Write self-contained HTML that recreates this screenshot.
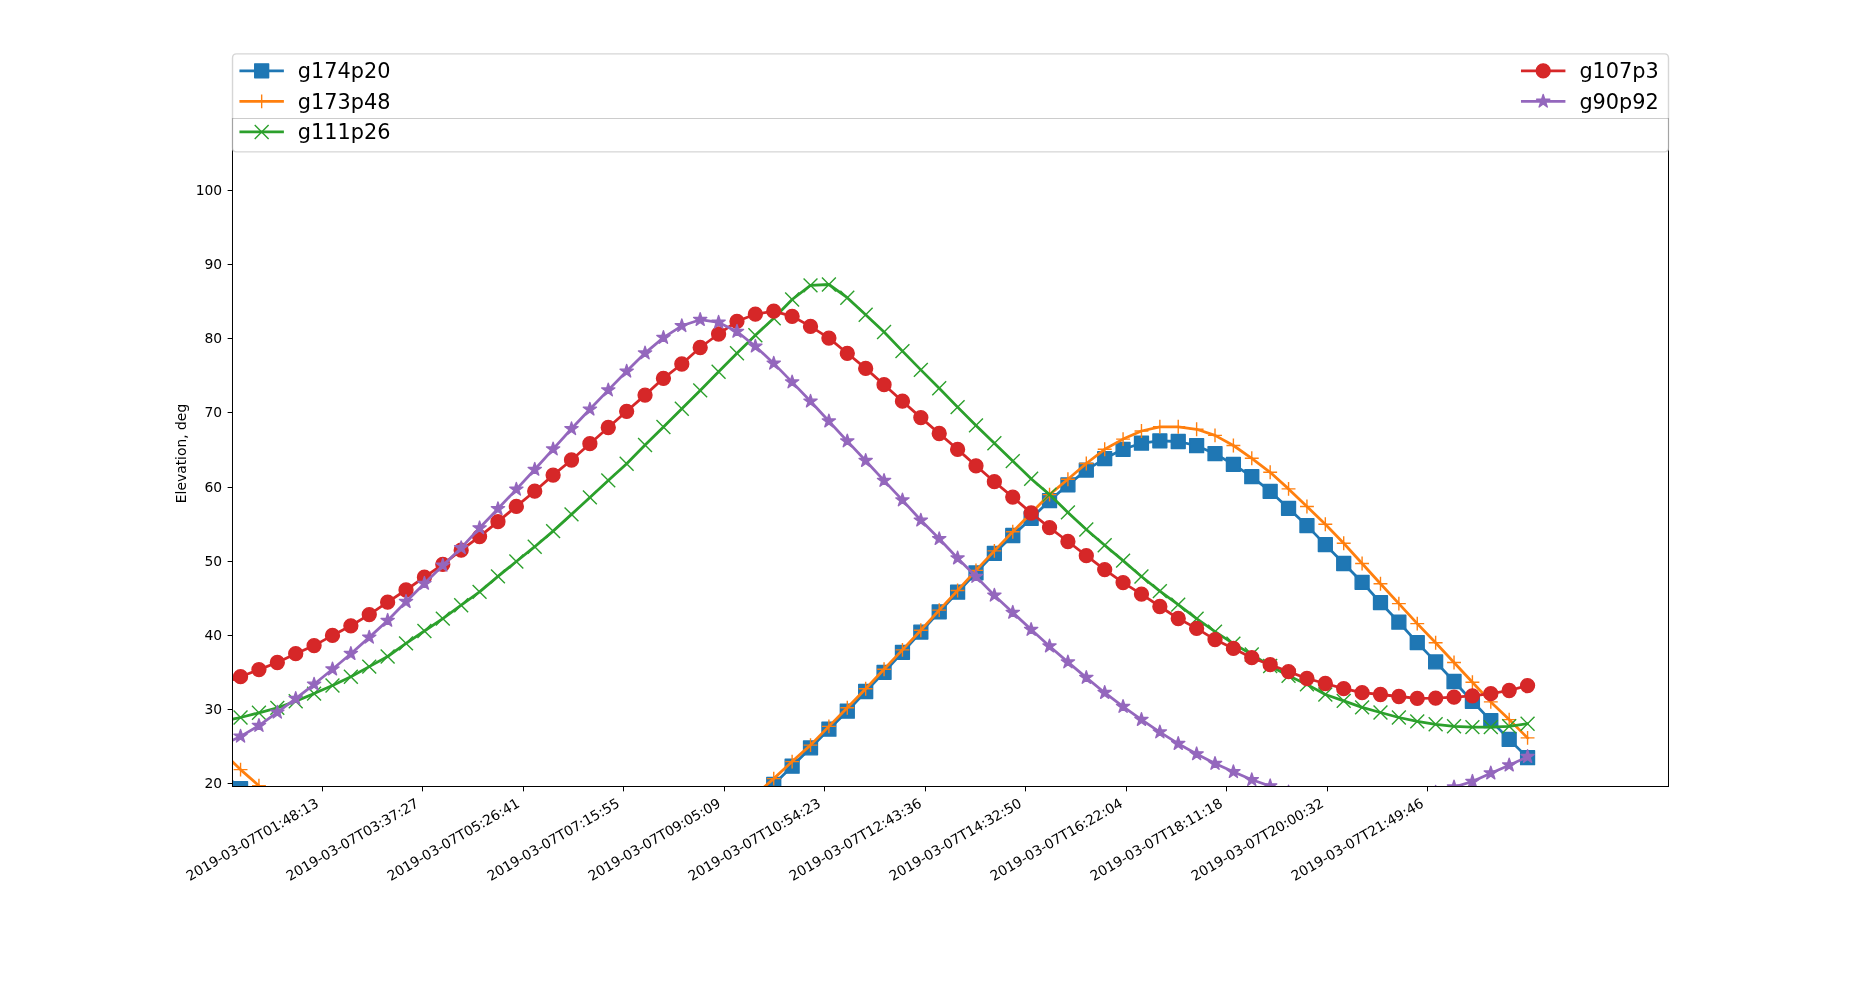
<!DOCTYPE html>
<html><head><meta charset="utf-8"><title>Elevation</title>
<style>html,body{margin:0;padding:0;background:#fff;width:1853px;height:982px;overflow:hidden}svg{display:block;will-change:transform}</style>
</head><body>
<svg width="1853" height="982" viewBox="0 0 1334.16 707.04" version="1.1">
 <defs>
  <style type="text/css">*{stroke-linejoin: round; stroke-linecap: butt}</style>
 </defs>
 <g id="figure_1">
  <g id="patch_1">
   <path d="M 0 707.04 
L 1334.16 707.04 
L 1334.16 0 
L 0 0 
z
" style="fill: #ffffff"/>
  </g>
  <g id="axes_1">
   <g id="patch_2">
    <path d="M 167.4 566.28 
L 1201.32 566.28 
L 1201.32 85.32 
L 167.4 85.32 
z
" style="fill: #ffffff"/>
   </g>
   <g id="matplotlib.axis_1">
    <g id="xtick_1">
     <g id="line2d_1">
      <defs>
       
      </defs>
      <g>
       <path d="M 0 0 
L 0 3.5 
" transform="translate(232.2 566.28)" style="stroke: #000000; stroke-width: 0.72"/>
      </g>
     </g>
     <g id="text_1">
      <text style="font-size: 10px; font-family: 'DejaVu Sans', sans-serif; letter-spacing: -0.060px" transform="translate(136.645662 634.428409) rotate(-30)">2019-03-07T01:48:13</text>
     </g>
    </g>
    <g id="xtick_2">
     <g id="line2d_2">
      <g>
       <path d="M 0 0 
L 0 3.5 
" transform="translate(304.2 566.28)" style="stroke: #000000; stroke-width: 0.72"/>
      </g>
     </g>
     <g id="text_2">
      <text style="font-size: 10px; font-family: 'DejaVu Sans', sans-serif; letter-spacing: -0.060px" transform="translate(208.645662 634.428409) rotate(-30)">2019-03-07T03:37:27</text>
     </g>
    </g>
    <g id="xtick_3">
     <g id="line2d_3">
      <g>
       <path d="M 0 0 
L 0 3.5 
" transform="translate(376.92 566.28)" style="stroke: #000000; stroke-width: 0.72"/>
      </g>
     </g>
     <g id="text_3">
      <text style="font-size: 10px; font-family: 'DejaVu Sans', sans-serif; letter-spacing: -0.060px" transform="translate(281.365662 634.428409) rotate(-30)">2019-03-07T05:26:41</text>
     </g>
    </g>
    <g id="xtick_4">
     <g id="line2d_4">
      <g>
       <path d="M 0 0 
L 0 3.5 
" transform="translate(448.92 566.28)" style="stroke: #000000; stroke-width: 0.72"/>
      </g>
     </g>
     <g id="text_4">
      <text style="font-size: 10px; font-family: 'DejaVu Sans', sans-serif; letter-spacing: -0.060px" transform="translate(353.365662 634.428409) rotate(-30)">2019-03-07T07:15:55</text>
     </g>
    </g>
    <g id="xtick_5">
     <g id="line2d_5">
      <g>
       <path d="M 0 0 
L 0 3.5 
" transform="translate(521.64 566.28)" style="stroke: #000000; stroke-width: 0.72"/>
      </g>
     </g>
     <g id="text_5">
      <text style="font-size: 10px; font-family: 'DejaVu Sans', sans-serif; letter-spacing: -0.060px" transform="translate(426.085662 634.428409) rotate(-30)">2019-03-07T09:05:09</text>
     </g>
    </g>
    <g id="xtick_6">
     <g id="line2d_6">
      <g>
       <path d="M 0 0 
L 0 3.5 
" transform="translate(593.64 566.28)" style="stroke: #000000; stroke-width: 0.72"/>
      </g>
     </g>
     <g id="text_6">
      <text style="font-size: 10px; font-family: 'DejaVu Sans', sans-serif; letter-spacing: -0.060px" transform="translate(498.085662 634.428409) rotate(-30)">2019-03-07T10:54:23</text>
     </g>
    </g>
    <g id="xtick_7">
     <g id="line2d_7">
      <g>
       <path d="M 0 0 
L 0 3.5 
" transform="translate(666.36 566.28)" style="stroke: #000000; stroke-width: 0.72"/>
      </g>
     </g>
     <g id="text_7">
      <text style="font-size: 10px; font-family: 'DejaVu Sans', sans-serif; letter-spacing: -0.060px" transform="translate(570.805662 634.428409) rotate(-30)">2019-03-07T12:43:36</text>
     </g>
    </g>
    <g id="xtick_8">
     <g id="line2d_8">
      <g>
       <path d="M 0 0 
L 0 3.5 
" transform="translate(738.36 566.28)" style="stroke: #000000; stroke-width: 0.72"/>
      </g>
     </g>
     <g id="text_8">
      <text style="font-size: 10px; font-family: 'DejaVu Sans', sans-serif; letter-spacing: -0.060px" transform="translate(642.805662 634.428409) rotate(-30)">2019-03-07T14:32:50</text>
     </g>
    </g>
    <g id="xtick_9">
     <g id="line2d_9">
      <g>
       <path d="M 0 0 
L 0 3.5 
" transform="translate(811.08 566.28)" style="stroke: #000000; stroke-width: 0.72"/>
      </g>
     </g>
     <g id="text_9">
      <text style="font-size: 10px; font-family: 'DejaVu Sans', sans-serif; letter-spacing: -0.060px" transform="translate(715.525662 634.428409) rotate(-30)">2019-03-07T16:22:04</text>
     </g>
    </g>
    <g id="xtick_10">
     <g id="line2d_10">
      <g>
       <path d="M 0 0 
L 0 3.5 
" transform="translate(883.08 566.28)" style="stroke: #000000; stroke-width: 0.72"/>
      </g>
     </g>
     <g id="text_10">
      <text style="font-size: 10px; font-family: 'DejaVu Sans', sans-serif; letter-spacing: -0.060px" transform="translate(787.525662 634.428409) rotate(-30)">2019-03-07T18:11:18</text>
     </g>
    </g>
    <g id="xtick_11">
     <g id="line2d_11">
      <g>
       <path d="M 0 0 
L 0 3.5 
" transform="translate(955.8 566.28)" style="stroke: #000000; stroke-width: 0.72"/>
      </g>
     </g>
     <g id="text_11">
      <text style="font-size: 10px; font-family: 'DejaVu Sans', sans-serif; letter-spacing: -0.060px" transform="translate(860.245662 634.428409) rotate(-30)">2019-03-07T20:00:32</text>
     </g>
    </g>
    <g id="xtick_12">
     <g id="line2d_12">
      <g>
       <path d="M 0 0 
L 0 3.5 
" transform="translate(1027.8 566.28)" style="stroke: #000000; stroke-width: 0.72"/>
      </g>
     </g>
     <g id="text_12">
      <text style="font-size: 10px; font-family: 'DejaVu Sans', sans-serif; letter-spacing: -0.060px" transform="translate(932.245662 634.428409) rotate(-30)">2019-03-07T21:49:46</text>
     </g>
    </g>
   </g>
   <g id="matplotlib.axis_2">
    <g id="ytick_1">
     <g id="line2d_13">
      <defs>
       
      </defs>
      <g>
       <path d="M 0 0 
L -3.5 0 
" transform="translate(167.4 564.12)" style="stroke: #000000; stroke-width: 0.72"/>
      </g>
     </g>
     <g id="text_13">
      <text style="font-size: 10px; font-family: 'DejaVu Sans', sans-serif; text-anchor: end" x="159.968" y="567.199" transform="rotate(-0 159.968 567.199)">20</text>
     </g>
    </g>
    <g id="ytick_2">
     <g id="line2d_14">
      <g>
       <path d="M 0 0 
L -3.5 0 
" transform="translate(167.4 510.84)" style="stroke: #000000; stroke-width: 0.72"/>
      </g>
     </g>
     <g id="text_14">
      <text style="font-size: 10px; font-family: 'DejaVu Sans', sans-serif; text-anchor: end" x="159.968" y="513.919" transform="rotate(-0 159.968 513.919)">30</text>
     </g>
    </g>
    <g id="ytick_3">
     <g id="line2d_15">
      <g>
       <path d="M 0 0 
L -3.5 0 
" transform="translate(167.4 457.56)" style="stroke: #000000; stroke-width: 0.72"/>
      </g>
     </g>
     <g id="text_15">
      <text style="font-size: 10px; font-family: 'DejaVu Sans', sans-serif; text-anchor: end" x="159.968" y="460.639" transform="rotate(-0 159.968 460.639)">40</text>
     </g>
    </g>
    <g id="ytick_4">
     <g id="line2d_16">
      <g>
       <path d="M 0 0 
L -3.5 0 
" transform="translate(167.4 404.28)" style="stroke: #000000; stroke-width: 0.72"/>
      </g>
     </g>
     <g id="text_16">
      <text style="font-size: 10px; font-family: 'DejaVu Sans', sans-serif; text-anchor: end" x="159.968" y="407.359" transform="rotate(-0 159.968 407.359)">50</text>
     </g>
    </g>
    <g id="ytick_5">
     <g id="line2d_17">
      <g>
       <path d="M 0 0 
L -3.5 0 
" transform="translate(167.4 351)" style="stroke: #000000; stroke-width: 0.72"/>
      </g>
     </g>
     <g id="text_17">
      <text style="font-size: 10px; font-family: 'DejaVu Sans', sans-serif; text-anchor: end" x="159.968" y="354.079" transform="rotate(-0 159.968 354.079)">60</text>
     </g>
    </g>
    <g id="ytick_6">
     <g id="line2d_18">
      <g>
       <path d="M 0 0 
L -3.5 0 
" transform="translate(167.4 297)" style="stroke: #000000; stroke-width: 0.72"/>
      </g>
     </g>
     <g id="text_18">
      <text style="font-size: 10px; font-family: 'DejaVu Sans', sans-serif; text-anchor: end" x="159.968" y="300.079" transform="rotate(-0 159.968 300.079)">70</text>
     </g>
    </g>
    <g id="ytick_7">
     <g id="line2d_19">
      <g>
       <path d="M 0 0 
L -3.5 0 
" transform="translate(167.4 243.72)" style="stroke: #000000; stroke-width: 0.72"/>
      </g>
     </g>
     <g id="text_19">
      <text style="font-size: 10px; font-family: 'DejaVu Sans', sans-serif; text-anchor: end" x="159.968" y="246.799" transform="rotate(-0 159.968 246.799)">80</text>
     </g>
    </g>
    <g id="ytick_8">
     <g id="line2d_20">
      <g>
       <path d="M 0 0 
L -3.5 0 
" transform="translate(167.4 190.44)" style="stroke: #000000; stroke-width: 0.72"/>
      </g>
     </g>
     <g id="text_20">
      <text style="font-size: 10px; font-family: 'DejaVu Sans', sans-serif; text-anchor: end" x="159.968" y="193.519" transform="rotate(-0 159.968 193.519)">90</text>
     </g>
    </g>
    <g id="ytick_9">
     <g id="line2d_21">
      <g>
       <path d="M 0 0 
L -3.5 0 
" transform="translate(167.4 137.16)" style="stroke: #000000; stroke-width: 0.72"/>
      </g>
     </g>
     <g id="text_21">
      <text style="font-size: 10px; font-family: 'DejaVu Sans', sans-serif; text-anchor: end" x="159.968" y="140.239" transform="rotate(-0 159.968 140.239)">100</text>
     </g>
    </g>
    <g id="text_22">
     <text style="font-size: 10px; font-family: 'DejaVu Sans', sans-serif; text-anchor: middle" x="133.865" y="326.520" transform="rotate(-90 133.865 326.520)">Elevation, deg</text>
    </g>
   </g>
   <g id="line2d_22">
    <path d="M 159.95808 555.984 
L 173.196 567.864 
L 186.43392 579.744 
L 199.67184 612.144 
L 212.90976 612.144 
L 226.14768 612.144 
L 239.3856 612.144 
L 252.62352 612.144 
L 265.86144 612.144 
L 279.09936 612.144 
L 292.33728 612.144 
L 305.5752 612.144 
L 318.81312 612.144 
L 332.05104 612.144 
L 345.28896 612.144 
L 358.52688 612.144 
L 371.7648 612.144 
L 385.00272 612.144 
L 398.24064 612.144 
L 411.47856 612.144 
L 424.71648 612.144 
L 437.9544 612.144 
L 451.19232 612.144 
L 464.43024 612.144 
L 477.66816 612.144 
L 490.90608 612.144 
L 504.144 612.144 
L 517.38192 612.144 
L 530.61984 612.144 
L 543.85776 577.584 
L 557.09568 564.768 
L 570.3336 551.664 
L 583.57152 538.488 
L 596.80944 525.024 
L 610.04736 512.064 
L 623.28528 497.88 
L 636.5232 484.128 
L 649.76112 469.728 
L 662.99904 455.112 
L 676.23696 440.496 
L 689.47488 426.384 
L 702.7128 412.488 
L 715.95072 398.376 
L 729.18864 385.56 
L 742.42656 373.248 
L 755.66448 360.504 
L 768.9024 349.056 
L 782.14032 338.472 
L 795.37824 330.192 
L 808.61616 323.496 
L 821.85408 319.104 
L 835.092 317.376 
L 848.32992 317.88 
L 861.56784 320.904 
L 874.80576 326.664 
L 888.04368 334.368 
L 901.2816 343.224 
L 914.51952 353.736 
L 927.75744 366.048 
L 940.99536 378.432 
L 954.23328 392.112 
L 967.4712 405.72 
L 980.70912 419.256 
L 993.94704 433.872 
L 1007.18496 447.984 
L 1020.42288 462.672 
L 1033.6608 476.568 
L 1046.89872 490.68 
L 1060.13664 504.936 
L 1073.37456 518.832 
L 1086.61248 532.368 
L 1099.8504 545.544 
" clip-path="url(#p12b262372b)" style="fill: none; stroke: #1f77b4; stroke-width: 2; stroke-linecap: square"/>
    <defs>
     
    </defs>
    <g clip-path="url(#p12b262372b)">
     <path d="M -5 5 
L 5 5 
L 5 -5 
L -5 -5 
z
" transform="translate(159.95808 555.984)" style="fill: #1f77b4; stroke: #1f77b4; stroke-linejoin: round"/>
     <path d="M -5 5 
L 5 5 
L 5 -5 
L -5 -5 
z
" transform="translate(173.196 567.864)" style="fill: #1f77b4; stroke: #1f77b4; stroke-linejoin: round"/>
     <path d="M -5 5 
L 5 5 
L 5 -5 
L -5 -5 
z
" transform="translate(186.43392 579.744)" style="fill: #1f77b4; stroke: #1f77b4; stroke-linejoin: round"/>
     <path d="M -5 5 
L 5 5 
L 5 -5 
L -5 -5 
z
" transform="translate(199.67184 612.144)" style="fill: #1f77b4; stroke: #1f77b4; stroke-linejoin: round"/>
     <path d="M -5 5 
L 5 5 
L 5 -5 
L -5 -5 
z
" transform="translate(212.90976 612.144)" style="fill: #1f77b4; stroke: #1f77b4; stroke-linejoin: round"/>
     <path d="M -5 5 
L 5 5 
L 5 -5 
L -5 -5 
z
" transform="translate(226.14768 612.144)" style="fill: #1f77b4; stroke: #1f77b4; stroke-linejoin: round"/>
     <path d="M -5 5 
L 5 5 
L 5 -5 
L -5 -5 
z
" transform="translate(239.3856 612.144)" style="fill: #1f77b4; stroke: #1f77b4; stroke-linejoin: round"/>
     <path d="M -5 5 
L 5 5 
L 5 -5 
L -5 -5 
z
" transform="translate(252.62352 612.144)" style="fill: #1f77b4; stroke: #1f77b4; stroke-linejoin: round"/>
     <path d="M -5 5 
L 5 5 
L 5 -5 
L -5 -5 
z
" transform="translate(265.86144 612.144)" style="fill: #1f77b4; stroke: #1f77b4; stroke-linejoin: round"/>
     <path d="M -5 5 
L 5 5 
L 5 -5 
L -5 -5 
z
" transform="translate(279.09936 612.144)" style="fill: #1f77b4; stroke: #1f77b4; stroke-linejoin: round"/>
     <path d="M -5 5 
L 5 5 
L 5 -5 
L -5 -5 
z
" transform="translate(292.33728 612.144)" style="fill: #1f77b4; stroke: #1f77b4; stroke-linejoin: round"/>
     <path d="M -5 5 
L 5 5 
L 5 -5 
L -5 -5 
z
" transform="translate(305.5752 612.144)" style="fill: #1f77b4; stroke: #1f77b4; stroke-linejoin: round"/>
     <path d="M -5 5 
L 5 5 
L 5 -5 
L -5 -5 
z
" transform="translate(318.81312 612.144)" style="fill: #1f77b4; stroke: #1f77b4; stroke-linejoin: round"/>
     <path d="M -5 5 
L 5 5 
L 5 -5 
L -5 -5 
z
" transform="translate(332.05104 612.144)" style="fill: #1f77b4; stroke: #1f77b4; stroke-linejoin: round"/>
     <path d="M -5 5 
L 5 5 
L 5 -5 
L -5 -5 
z
" transform="translate(345.28896 612.144)" style="fill: #1f77b4; stroke: #1f77b4; stroke-linejoin: round"/>
     <path d="M -5 5 
L 5 5 
L 5 -5 
L -5 -5 
z
" transform="translate(358.52688 612.144)" style="fill: #1f77b4; stroke: #1f77b4; stroke-linejoin: round"/>
     <path d="M -5 5 
L 5 5 
L 5 -5 
L -5 -5 
z
" transform="translate(371.7648 612.144)" style="fill: #1f77b4; stroke: #1f77b4; stroke-linejoin: round"/>
     <path d="M -5 5 
L 5 5 
L 5 -5 
L -5 -5 
z
" transform="translate(385.00272 612.144)" style="fill: #1f77b4; stroke: #1f77b4; stroke-linejoin: round"/>
     <path d="M -5 5 
L 5 5 
L 5 -5 
L -5 -5 
z
" transform="translate(398.24064 612.144)" style="fill: #1f77b4; stroke: #1f77b4; stroke-linejoin: round"/>
     <path d="M -5 5 
L 5 5 
L 5 -5 
L -5 -5 
z
" transform="translate(411.47856 612.144)" style="fill: #1f77b4; stroke: #1f77b4; stroke-linejoin: round"/>
     <path d="M -5 5 
L 5 5 
L 5 -5 
L -5 -5 
z
" transform="translate(424.71648 612.144)" style="fill: #1f77b4; stroke: #1f77b4; stroke-linejoin: round"/>
     <path d="M -5 5 
L 5 5 
L 5 -5 
L -5 -5 
z
" transform="translate(437.9544 612.144)" style="fill: #1f77b4; stroke: #1f77b4; stroke-linejoin: round"/>
     <path d="M -5 5 
L 5 5 
L 5 -5 
L -5 -5 
z
" transform="translate(451.19232 612.144)" style="fill: #1f77b4; stroke: #1f77b4; stroke-linejoin: round"/>
     <path d="M -5 5 
L 5 5 
L 5 -5 
L -5 -5 
z
" transform="translate(464.43024 612.144)" style="fill: #1f77b4; stroke: #1f77b4; stroke-linejoin: round"/>
     <path d="M -5 5 
L 5 5 
L 5 -5 
L -5 -5 
z
" transform="translate(477.66816 612.144)" style="fill: #1f77b4; stroke: #1f77b4; stroke-linejoin: round"/>
     <path d="M -5 5 
L 5 5 
L 5 -5 
L -5 -5 
z
" transform="translate(490.90608 612.144)" style="fill: #1f77b4; stroke: #1f77b4; stroke-linejoin: round"/>
     <path d="M -5 5 
L 5 5 
L 5 -5 
L -5 -5 
z
" transform="translate(504.144 612.144)" style="fill: #1f77b4; stroke: #1f77b4; stroke-linejoin: round"/>
     <path d="M -5 5 
L 5 5 
L 5 -5 
L -5 -5 
z
" transform="translate(517.38192 612.144)" style="fill: #1f77b4; stroke: #1f77b4; stroke-linejoin: round"/>
     <path d="M -5 5 
L 5 5 
L 5 -5 
L -5 -5 
z
" transform="translate(530.61984 612.144)" style="fill: #1f77b4; stroke: #1f77b4; stroke-linejoin: round"/>
     <path d="M -5 5 
L 5 5 
L 5 -5 
L -5 -5 
z
" transform="translate(543.85776 577.584)" style="fill: #1f77b4; stroke: #1f77b4; stroke-linejoin: round"/>
     <path d="M -5 5 
L 5 5 
L 5 -5 
L -5 -5 
z
" transform="translate(557.09568 564.768)" style="fill: #1f77b4; stroke: #1f77b4; stroke-linejoin: round"/>
     <path d="M -5 5 
L 5 5 
L 5 -5 
L -5 -5 
z
" transform="translate(570.3336 551.664)" style="fill: #1f77b4; stroke: #1f77b4; stroke-linejoin: round"/>
     <path d="M -5 5 
L 5 5 
L 5 -5 
L -5 -5 
z
" transform="translate(583.57152 538.488)" style="fill: #1f77b4; stroke: #1f77b4; stroke-linejoin: round"/>
     <path d="M -5 5 
L 5 5 
L 5 -5 
L -5 -5 
z
" transform="translate(596.80944 525.024)" style="fill: #1f77b4; stroke: #1f77b4; stroke-linejoin: round"/>
     <path d="M -5 5 
L 5 5 
L 5 -5 
L -5 -5 
z
" transform="translate(610.04736 512.064)" style="fill: #1f77b4; stroke: #1f77b4; stroke-linejoin: round"/>
     <path d="M -5 5 
L 5 5 
L 5 -5 
L -5 -5 
z
" transform="translate(623.28528 497.88)" style="fill: #1f77b4; stroke: #1f77b4; stroke-linejoin: round"/>
     <path d="M -5 5 
L 5 5 
L 5 -5 
L -5 -5 
z
" transform="translate(636.5232 484.128)" style="fill: #1f77b4; stroke: #1f77b4; stroke-linejoin: round"/>
     <path d="M -5 5 
L 5 5 
L 5 -5 
L -5 -5 
z
" transform="translate(649.76112 469.728)" style="fill: #1f77b4; stroke: #1f77b4; stroke-linejoin: round"/>
     <path d="M -5 5 
L 5 5 
L 5 -5 
L -5 -5 
z
" transform="translate(662.99904 455.112)" style="fill: #1f77b4; stroke: #1f77b4; stroke-linejoin: round"/>
     <path d="M -5 5 
L 5 5 
L 5 -5 
L -5 -5 
z
" transform="translate(676.23696 440.496)" style="fill: #1f77b4; stroke: #1f77b4; stroke-linejoin: round"/>
     <path d="M -5 5 
L 5 5 
L 5 -5 
L -5 -5 
z
" transform="translate(689.47488 426.384)" style="fill: #1f77b4; stroke: #1f77b4; stroke-linejoin: round"/>
     <path d="M -5 5 
L 5 5 
L 5 -5 
L -5 -5 
z
" transform="translate(702.7128 412.488)" style="fill: #1f77b4; stroke: #1f77b4; stroke-linejoin: round"/>
     <path d="M -5 5 
L 5 5 
L 5 -5 
L -5 -5 
z
" transform="translate(715.95072 398.376)" style="fill: #1f77b4; stroke: #1f77b4; stroke-linejoin: round"/>
     <path d="M -5 5 
L 5 5 
L 5 -5 
L -5 -5 
z
" transform="translate(729.18864 385.56)" style="fill: #1f77b4; stroke: #1f77b4; stroke-linejoin: round"/>
     <path d="M -5 5 
L 5 5 
L 5 -5 
L -5 -5 
z
" transform="translate(742.42656 373.248)" style="fill: #1f77b4; stroke: #1f77b4; stroke-linejoin: round"/>
     <path d="M -5 5 
L 5 5 
L 5 -5 
L -5 -5 
z
" transform="translate(755.66448 360.504)" style="fill: #1f77b4; stroke: #1f77b4; stroke-linejoin: round"/>
     <path d="M -5 5 
L 5 5 
L 5 -5 
L -5 -5 
z
" transform="translate(768.9024 349.056)" style="fill: #1f77b4; stroke: #1f77b4; stroke-linejoin: round"/>
     <path d="M -5 5 
L 5 5 
L 5 -5 
L -5 -5 
z
" transform="translate(782.14032 338.472)" style="fill: #1f77b4; stroke: #1f77b4; stroke-linejoin: round"/>
     <path d="M -5 5 
L 5 5 
L 5 -5 
L -5 -5 
z
" transform="translate(795.37824 330.192)" style="fill: #1f77b4; stroke: #1f77b4; stroke-linejoin: round"/>
     <path d="M -5 5 
L 5 5 
L 5 -5 
L -5 -5 
z
" transform="translate(808.61616 323.496)" style="fill: #1f77b4; stroke: #1f77b4; stroke-linejoin: round"/>
     <path d="M -5 5 
L 5 5 
L 5 -5 
L -5 -5 
z
" transform="translate(821.85408 319.104)" style="fill: #1f77b4; stroke: #1f77b4; stroke-linejoin: round"/>
     <path d="M -5 5 
L 5 5 
L 5 -5 
L -5 -5 
z
" transform="translate(835.092 317.376)" style="fill: #1f77b4; stroke: #1f77b4; stroke-linejoin: round"/>
     <path d="M -5 5 
L 5 5 
L 5 -5 
L -5 -5 
z
" transform="translate(848.32992 317.88)" style="fill: #1f77b4; stroke: #1f77b4; stroke-linejoin: round"/>
     <path d="M -5 5 
L 5 5 
L 5 -5 
L -5 -5 
z
" transform="translate(861.56784 320.904)" style="fill: #1f77b4; stroke: #1f77b4; stroke-linejoin: round"/>
     <path d="M -5 5 
L 5 5 
L 5 -5 
L -5 -5 
z
" transform="translate(874.80576 326.664)" style="fill: #1f77b4; stroke: #1f77b4; stroke-linejoin: round"/>
     <path d="M -5 5 
L 5 5 
L 5 -5 
L -5 -5 
z
" transform="translate(888.04368 334.368)" style="fill: #1f77b4; stroke: #1f77b4; stroke-linejoin: round"/>
     <path d="M -5 5 
L 5 5 
L 5 -5 
L -5 -5 
z
" transform="translate(901.2816 343.224)" style="fill: #1f77b4; stroke: #1f77b4; stroke-linejoin: round"/>
     <path d="M -5 5 
L 5 5 
L 5 -5 
L -5 -5 
z
" transform="translate(914.51952 353.736)" style="fill: #1f77b4; stroke: #1f77b4; stroke-linejoin: round"/>
     <path d="M -5 5 
L 5 5 
L 5 -5 
L -5 -5 
z
" transform="translate(927.75744 366.048)" style="fill: #1f77b4; stroke: #1f77b4; stroke-linejoin: round"/>
     <path d="M -5 5 
L 5 5 
L 5 -5 
L -5 -5 
z
" transform="translate(940.99536 378.432)" style="fill: #1f77b4; stroke: #1f77b4; stroke-linejoin: round"/>
     <path d="M -5 5 
L 5 5 
L 5 -5 
L -5 -5 
z
" transform="translate(954.23328 392.112)" style="fill: #1f77b4; stroke: #1f77b4; stroke-linejoin: round"/>
     <path d="M -5 5 
L 5 5 
L 5 -5 
L -5 -5 
z
" transform="translate(967.4712 405.72)" style="fill: #1f77b4; stroke: #1f77b4; stroke-linejoin: round"/>
     <path d="M -5 5 
L 5 5 
L 5 -5 
L -5 -5 
z
" transform="translate(980.70912 419.256)" style="fill: #1f77b4; stroke: #1f77b4; stroke-linejoin: round"/>
     <path d="M -5 5 
L 5 5 
L 5 -5 
L -5 -5 
z
" transform="translate(993.94704 433.872)" style="fill: #1f77b4; stroke: #1f77b4; stroke-linejoin: round"/>
     <path d="M -5 5 
L 5 5 
L 5 -5 
L -5 -5 
z
" transform="translate(1007.18496 447.984)" style="fill: #1f77b4; stroke: #1f77b4; stroke-linejoin: round"/>
     <path d="M -5 5 
L 5 5 
L 5 -5 
L -5 -5 
z
" transform="translate(1020.42288 462.672)" style="fill: #1f77b4; stroke: #1f77b4; stroke-linejoin: round"/>
     <path d="M -5 5 
L 5 5 
L 5 -5 
L -5 -5 
z
" transform="translate(1033.6608 476.568)" style="fill: #1f77b4; stroke: #1f77b4; stroke-linejoin: round"/>
     <path d="M -5 5 
L 5 5 
L 5 -5 
L -5 -5 
z
" transform="translate(1046.89872 490.68)" style="fill: #1f77b4; stroke: #1f77b4; stroke-linejoin: round"/>
     <path d="M -5 5 
L 5 5 
L 5 -5 
L -5 -5 
z
" transform="translate(1060.13664 504.936)" style="fill: #1f77b4; stroke: #1f77b4; stroke-linejoin: round"/>
     <path d="M -5 5 
L 5 5 
L 5 -5 
L -5 -5 
z
" transform="translate(1073.37456 518.832)" style="fill: #1f77b4; stroke: #1f77b4; stroke-linejoin: round"/>
     <path d="M -5 5 
L 5 5 
L 5 -5 
L -5 -5 
z
" transform="translate(1086.61248 532.368)" style="fill: #1f77b4; stroke: #1f77b4; stroke-linejoin: round"/>
     <path d="M -5 5 
L 5 5 
L 5 -5 
L -5 -5 
z
" transform="translate(1099.8504 545.544)" style="fill: #1f77b4; stroke: #1f77b4; stroke-linejoin: round"/>
    </g>
   </g>
   <g id="line2d_23">
    <path d="M 159.95808 541.224 
L 173.196 554.112 
L 186.43392 565.704 
L 199.67184 578.304 
L 212.90976 612.144 
L 226.14768 612.144 
L 239.3856 612.144 
L 252.62352 612.144 
L 265.86144 612.144 
L 279.09936 612.144 
L 292.33728 612.144 
L 305.5752 612.144 
L 318.81312 612.144 
L 332.05104 612.144 
L 345.28896 612.144 
L 358.52688 612.144 
L 371.7648 612.144 
L 385.00272 612.144 
L 398.24064 612.144 
L 411.47856 612.144 
L 424.71648 612.144 
L 437.9544 612.144 
L 451.19232 612.144 
L 464.43024 612.144 
L 477.66816 612.144 
L 490.90608 612.144 
L 504.144 612.144 
L 517.38192 612.144 
L 530.61984 612.144 
L 543.85776 572.328 
L 557.09568 560.592 
L 570.3336 548.352 
L 583.57152 536.472 
L 596.80944 523.008 
L 610.04736 509.544 
L 623.28528 495.864 
L 636.5232 481.824 
L 649.76112 467.928 
L 662.99904 453.816 
L 676.23696 439.272 
L 689.47488 425.16 
L 702.7128 410.688 
L 715.95072 396.648 
L 729.18864 382.896 
L 742.42656 369.36 
L 755.66448 356.112 
L 768.9024 345.024 
L 782.14032 333.72 
L 795.37824 323.496 
L 808.61616 316.152 
L 821.85408 310.32 
L 835.092 307.296 
L 848.32992 307.296 
L 861.56784 309.096 
L 874.80576 313.488 
L 888.04368 320.76 
L 901.2816 329.976 
L 914.51952 340.056 
L 927.75744 352.008 
L 940.99536 364.68 
L 954.23328 377.496 
L 967.4712 391.104 
L 980.70912 405.72 
L 993.94704 420.264 
L 1007.18496 434.592 
L 1020.42288 448.992 
L 1033.6608 462.816 
L 1046.89872 477 
L 1060.13664 491.256 
L 1073.37456 505.368 
L 1086.61248 518.112 
L 1099.8504 531.288 
" clip-path="url(#p12b262372b)" style="fill: none; stroke: #ff7f0e; stroke-width: 2; stroke-linecap: square"/>
    <defs>
     
    </defs>
    <g clip-path="url(#p12b262372b)">
     <path d="M -5 0 
L 5 0 
M 0 5 
L 0 -5 
" transform="translate(159.95808 541.224)" style="fill: #ff7f0e; stroke: #ff7f0e"/>
     <path d="M -5 0 
L 5 0 
M 0 5 
L 0 -5 
" transform="translate(173.196 554.112)" style="fill: #ff7f0e; stroke: #ff7f0e"/>
     <path d="M -5 0 
L 5 0 
M 0 5 
L 0 -5 
" transform="translate(186.43392 565.704)" style="fill: #ff7f0e; stroke: #ff7f0e"/>
     <path d="M -5 0 
L 5 0 
M 0 5 
L 0 -5 
" transform="translate(199.67184 578.304)" style="fill: #ff7f0e; stroke: #ff7f0e"/>
     <path d="M -5 0 
L 5 0 
M 0 5 
L 0 -5 
" transform="translate(212.90976 612.144)" style="fill: #ff7f0e; stroke: #ff7f0e"/>
     <path d="M -5 0 
L 5 0 
M 0 5 
L 0 -5 
" transform="translate(226.14768 612.144)" style="fill: #ff7f0e; stroke: #ff7f0e"/>
     <path d="M -5 0 
L 5 0 
M 0 5 
L 0 -5 
" transform="translate(239.3856 612.144)" style="fill: #ff7f0e; stroke: #ff7f0e"/>
     <path d="M -5 0 
L 5 0 
M 0 5 
L 0 -5 
" transform="translate(252.62352 612.144)" style="fill: #ff7f0e; stroke: #ff7f0e"/>
     <path d="M -5 0 
L 5 0 
M 0 5 
L 0 -5 
" transform="translate(265.86144 612.144)" style="fill: #ff7f0e; stroke: #ff7f0e"/>
     <path d="M -5 0 
L 5 0 
M 0 5 
L 0 -5 
" transform="translate(279.09936 612.144)" style="fill: #ff7f0e; stroke: #ff7f0e"/>
     <path d="M -5 0 
L 5 0 
M 0 5 
L 0 -5 
" transform="translate(292.33728 612.144)" style="fill: #ff7f0e; stroke: #ff7f0e"/>
     <path d="M -5 0 
L 5 0 
M 0 5 
L 0 -5 
" transform="translate(305.5752 612.144)" style="fill: #ff7f0e; stroke: #ff7f0e"/>
     <path d="M -5 0 
L 5 0 
M 0 5 
L 0 -5 
" transform="translate(318.81312 612.144)" style="fill: #ff7f0e; stroke: #ff7f0e"/>
     <path d="M -5 0 
L 5 0 
M 0 5 
L 0 -5 
" transform="translate(332.05104 612.144)" style="fill: #ff7f0e; stroke: #ff7f0e"/>
     <path d="M -5 0 
L 5 0 
M 0 5 
L 0 -5 
" transform="translate(345.28896 612.144)" style="fill: #ff7f0e; stroke: #ff7f0e"/>
     <path d="M -5 0 
L 5 0 
M 0 5 
L 0 -5 
" transform="translate(358.52688 612.144)" style="fill: #ff7f0e; stroke: #ff7f0e"/>
     <path d="M -5 0 
L 5 0 
M 0 5 
L 0 -5 
" transform="translate(371.7648 612.144)" style="fill: #ff7f0e; stroke: #ff7f0e"/>
     <path d="M -5 0 
L 5 0 
M 0 5 
L 0 -5 
" transform="translate(385.00272 612.144)" style="fill: #ff7f0e; stroke: #ff7f0e"/>
     <path d="M -5 0 
L 5 0 
M 0 5 
L 0 -5 
" transform="translate(398.24064 612.144)" style="fill: #ff7f0e; stroke: #ff7f0e"/>
     <path d="M -5 0 
L 5 0 
M 0 5 
L 0 -5 
" transform="translate(411.47856 612.144)" style="fill: #ff7f0e; stroke: #ff7f0e"/>
     <path d="M -5 0 
L 5 0 
M 0 5 
L 0 -5 
" transform="translate(424.71648 612.144)" style="fill: #ff7f0e; stroke: #ff7f0e"/>
     <path d="M -5 0 
L 5 0 
M 0 5 
L 0 -5 
" transform="translate(437.9544 612.144)" style="fill: #ff7f0e; stroke: #ff7f0e"/>
     <path d="M -5 0 
L 5 0 
M 0 5 
L 0 -5 
" transform="translate(451.19232 612.144)" style="fill: #ff7f0e; stroke: #ff7f0e"/>
     <path d="M -5 0 
L 5 0 
M 0 5 
L 0 -5 
" transform="translate(464.43024 612.144)" style="fill: #ff7f0e; stroke: #ff7f0e"/>
     <path d="M -5 0 
L 5 0 
M 0 5 
L 0 -5 
" transform="translate(477.66816 612.144)" style="fill: #ff7f0e; stroke: #ff7f0e"/>
     <path d="M -5 0 
L 5 0 
M 0 5 
L 0 -5 
" transform="translate(490.90608 612.144)" style="fill: #ff7f0e; stroke: #ff7f0e"/>
     <path d="M -5 0 
L 5 0 
M 0 5 
L 0 -5 
" transform="translate(504.144 612.144)" style="fill: #ff7f0e; stroke: #ff7f0e"/>
     <path d="M -5 0 
L 5 0 
M 0 5 
L 0 -5 
" transform="translate(517.38192 612.144)" style="fill: #ff7f0e; stroke: #ff7f0e"/>
     <path d="M -5 0 
L 5 0 
M 0 5 
L 0 -5 
" transform="translate(530.61984 612.144)" style="fill: #ff7f0e; stroke: #ff7f0e"/>
     <path d="M -5 0 
L 5 0 
M 0 5 
L 0 -5 
" transform="translate(543.85776 572.328)" style="fill: #ff7f0e; stroke: #ff7f0e"/>
     <path d="M -5 0 
L 5 0 
M 0 5 
L 0 -5 
" transform="translate(557.09568 560.592)" style="fill: #ff7f0e; stroke: #ff7f0e"/>
     <path d="M -5 0 
L 5 0 
M 0 5 
L 0 -5 
" transform="translate(570.3336 548.352)" style="fill: #ff7f0e; stroke: #ff7f0e"/>
     <path d="M -5 0 
L 5 0 
M 0 5 
L 0 -5 
" transform="translate(583.57152 536.472)" style="fill: #ff7f0e; stroke: #ff7f0e"/>
     <path d="M -5 0 
L 5 0 
M 0 5 
L 0 -5 
" transform="translate(596.80944 523.008)" style="fill: #ff7f0e; stroke: #ff7f0e"/>
     <path d="M -5 0 
L 5 0 
M 0 5 
L 0 -5 
" transform="translate(610.04736 509.544)" style="fill: #ff7f0e; stroke: #ff7f0e"/>
     <path d="M -5 0 
L 5 0 
M 0 5 
L 0 -5 
" transform="translate(623.28528 495.864)" style="fill: #ff7f0e; stroke: #ff7f0e"/>
     <path d="M -5 0 
L 5 0 
M 0 5 
L 0 -5 
" transform="translate(636.5232 481.824)" style="fill: #ff7f0e; stroke: #ff7f0e"/>
     <path d="M -5 0 
L 5 0 
M 0 5 
L 0 -5 
" transform="translate(649.76112 467.928)" style="fill: #ff7f0e; stroke: #ff7f0e"/>
     <path d="M -5 0 
L 5 0 
M 0 5 
L 0 -5 
" transform="translate(662.99904 453.816)" style="fill: #ff7f0e; stroke: #ff7f0e"/>
     <path d="M -5 0 
L 5 0 
M 0 5 
L 0 -5 
" transform="translate(676.23696 439.272)" style="fill: #ff7f0e; stroke: #ff7f0e"/>
     <path d="M -5 0 
L 5 0 
M 0 5 
L 0 -5 
" transform="translate(689.47488 425.16)" style="fill: #ff7f0e; stroke: #ff7f0e"/>
     <path d="M -5 0 
L 5 0 
M 0 5 
L 0 -5 
" transform="translate(702.7128 410.688)" style="fill: #ff7f0e; stroke: #ff7f0e"/>
     <path d="M -5 0 
L 5 0 
M 0 5 
L 0 -5 
" transform="translate(715.95072 396.648)" style="fill: #ff7f0e; stroke: #ff7f0e"/>
     <path d="M -5 0 
L 5 0 
M 0 5 
L 0 -5 
" transform="translate(729.18864 382.896)" style="fill: #ff7f0e; stroke: #ff7f0e"/>
     <path d="M -5 0 
L 5 0 
M 0 5 
L 0 -5 
" transform="translate(742.42656 369.36)" style="fill: #ff7f0e; stroke: #ff7f0e"/>
     <path d="M -5 0 
L 5 0 
M 0 5 
L 0 -5 
" transform="translate(755.66448 356.112)" style="fill: #ff7f0e; stroke: #ff7f0e"/>
     <path d="M -5 0 
L 5 0 
M 0 5 
L 0 -5 
" transform="translate(768.9024 345.024)" style="fill: #ff7f0e; stroke: #ff7f0e"/>
     <path d="M -5 0 
L 5 0 
M 0 5 
L 0 -5 
" transform="translate(782.14032 333.72)" style="fill: #ff7f0e; stroke: #ff7f0e"/>
     <path d="M -5 0 
L 5 0 
M 0 5 
L 0 -5 
" transform="translate(795.37824 323.496)" style="fill: #ff7f0e; stroke: #ff7f0e"/>
     <path d="M -5 0 
L 5 0 
M 0 5 
L 0 -5 
" transform="translate(808.61616 316.152)" style="fill: #ff7f0e; stroke: #ff7f0e"/>
     <path d="M -5 0 
L 5 0 
M 0 5 
L 0 -5 
" transform="translate(821.85408 310.32)" style="fill: #ff7f0e; stroke: #ff7f0e"/>
     <path d="M -5 0 
L 5 0 
M 0 5 
L 0 -5 
" transform="translate(835.092 307.296)" style="fill: #ff7f0e; stroke: #ff7f0e"/>
     <path d="M -5 0 
L 5 0 
M 0 5 
L 0 -5 
" transform="translate(848.32992 307.296)" style="fill: #ff7f0e; stroke: #ff7f0e"/>
     <path d="M -5 0 
L 5 0 
M 0 5 
L 0 -5 
" transform="translate(861.56784 309.096)" style="fill: #ff7f0e; stroke: #ff7f0e"/>
     <path d="M -5 0 
L 5 0 
M 0 5 
L 0 -5 
" transform="translate(874.80576 313.488)" style="fill: #ff7f0e; stroke: #ff7f0e"/>
     <path d="M -5 0 
L 5 0 
M 0 5 
L 0 -5 
" transform="translate(888.04368 320.76)" style="fill: #ff7f0e; stroke: #ff7f0e"/>
     <path d="M -5 0 
L 5 0 
M 0 5 
L 0 -5 
" transform="translate(901.2816 329.976)" style="fill: #ff7f0e; stroke: #ff7f0e"/>
     <path d="M -5 0 
L 5 0 
M 0 5 
L 0 -5 
" transform="translate(914.51952 340.056)" style="fill: #ff7f0e; stroke: #ff7f0e"/>
     <path d="M -5 0 
L 5 0 
M 0 5 
L 0 -5 
" transform="translate(927.75744 352.008)" style="fill: #ff7f0e; stroke: #ff7f0e"/>
     <path d="M -5 0 
L 5 0 
M 0 5 
L 0 -5 
" transform="translate(940.99536 364.68)" style="fill: #ff7f0e; stroke: #ff7f0e"/>
     <path d="M -5 0 
L 5 0 
M 0 5 
L 0 -5 
" transform="translate(954.23328 377.496)" style="fill: #ff7f0e; stroke: #ff7f0e"/>
     <path d="M -5 0 
L 5 0 
M 0 5 
L 0 -5 
" transform="translate(967.4712 391.104)" style="fill: #ff7f0e; stroke: #ff7f0e"/>
     <path d="M -5 0 
L 5 0 
M 0 5 
L 0 -5 
" transform="translate(980.70912 405.72)" style="fill: #ff7f0e; stroke: #ff7f0e"/>
     <path d="M -5 0 
L 5 0 
M 0 5 
L 0 -5 
" transform="translate(993.94704 420.264)" style="fill: #ff7f0e; stroke: #ff7f0e"/>
     <path d="M -5 0 
L 5 0 
M 0 5 
L 0 -5 
" transform="translate(1007.18496 434.592)" style="fill: #ff7f0e; stroke: #ff7f0e"/>
     <path d="M -5 0 
L 5 0 
M 0 5 
L 0 -5 
" transform="translate(1020.42288 448.992)" style="fill: #ff7f0e; stroke: #ff7f0e"/>
     <path d="M -5 0 
L 5 0 
M 0 5 
L 0 -5 
" transform="translate(1033.6608 462.816)" style="fill: #ff7f0e; stroke: #ff7f0e"/>
     <path d="M -5 0 
L 5 0 
M 0 5 
L 0 -5 
" transform="translate(1046.89872 477)" style="fill: #ff7f0e; stroke: #ff7f0e"/>
     <path d="M -5 0 
L 5 0 
M 0 5 
L 0 -5 
" transform="translate(1060.13664 491.256)" style="fill: #ff7f0e; stroke: #ff7f0e"/>
     <path d="M -5 0 
L 5 0 
M 0 5 
L 0 -5 
" transform="translate(1073.37456 505.368)" style="fill: #ff7f0e; stroke: #ff7f0e"/>
     <path d="M -5 0 
L 5 0 
M 0 5 
L 0 -5 
" transform="translate(1086.61248 518.112)" style="fill: #ff7f0e; stroke: #ff7f0e"/>
     <path d="M -5 0 
L 5 0 
M 0 5 
L 0 -5 
" transform="translate(1099.8504 531.288)" style="fill: #ff7f0e; stroke: #ff7f0e"/>
    </g>
   </g>
   <g id="line2d_24">
    <path d="M 159.95808 519.264 
L 173.196 516.6 
L 186.43392 513.216 
L 199.67184 509.688 
L 212.90976 504.864 
L 226.14768 499.392 
L 239.3856 493.56 
L 252.62352 487.224 
L 265.86144 479.952 
L 279.09936 472.68 
L 292.33728 463.248 
L 305.5752 454.32 
L 318.81312 445.392 
L 332.05104 435.744 
L 345.28896 426.168 
L 358.52688 415.008 
L 371.7648 404.28 
L 385.00272 393.624 
L 398.24064 382.392 
L 411.47856 370.368 
L 424.71648 358.128 
L 437.9544 345.888 
L 451.19232 333.864 
L 464.43024 320.4 
L 477.66816 307.44 
L 490.90608 294.336 
L 504.144 281.088 
L 517.38192 267.624 
L 530.61984 254.376 
L 543.85776 241.416 
L 557.09568 229.104 
L 570.3336 215.64 
L 583.57152 205.488 
L 596.80944 204.84 
L 610.04736 214.344 
L 623.28528 226.584 
L 636.5232 239.04 
L 649.76112 252.792 
L 662.99904 266.328 
L 676.23696 279.504 
L 689.47488 293.112 
L 702.7128 306.288 
L 715.95072 319.176 
L 729.18864 331.992 
L 742.42656 344.664 
L 755.66448 356.112 
L 768.9024 368.928 
L 782.14032 381.24 
L 795.37824 392.544 
L 808.61616 403.632 
L 821.85408 415.08 
L 835.092 425.592 
L 848.32992 435.312 
L 861.56784 445.464 
L 874.80576 454.752 
L 888.04368 463.392 
L 901.2816 471.24 
L 914.51952 479.52 
L 927.75744 486.576 
L 940.99536 492.768 
L 954.23328 500.04 
L 967.4712 504.648 
L 980.70912 509.328 
L 993.94704 513 
L 1007.18496 516.6 
L 1020.42288 519.408 
L 1033.6608 521.496 
L 1046.89872 522.936 
L 1060.13664 523.512 
L 1073.37456 523.512 
L 1086.61248 522.936 
L 1099.8504 521.064 
" clip-path="url(#p12b262372b)" style="fill: none; stroke: #2ca02c; stroke-width: 2; stroke-linecap: square"/>
    <defs>
     
    </defs>
    <g clip-path="url(#p12b262372b)">
     <path d="M -5 5 
L 5 -5 
M -5 -5 
L 5 5 
" transform="translate(159.95808 519.264)" style="fill: #2ca02c; stroke: #2ca02c"/>
     <path d="M -5 5 
L 5 -5 
M -5 -5 
L 5 5 
" transform="translate(173.196 516.6)" style="fill: #2ca02c; stroke: #2ca02c"/>
     <path d="M -5 5 
L 5 -5 
M -5 -5 
L 5 5 
" transform="translate(186.43392 513.216)" style="fill: #2ca02c; stroke: #2ca02c"/>
     <path d="M -5 5 
L 5 -5 
M -5 -5 
L 5 5 
" transform="translate(199.67184 509.688)" style="fill: #2ca02c; stroke: #2ca02c"/>
     <path d="M -5 5 
L 5 -5 
M -5 -5 
L 5 5 
" transform="translate(212.90976 504.864)" style="fill: #2ca02c; stroke: #2ca02c"/>
     <path d="M -5 5 
L 5 -5 
M -5 -5 
L 5 5 
" transform="translate(226.14768 499.392)" style="fill: #2ca02c; stroke: #2ca02c"/>
     <path d="M -5 5 
L 5 -5 
M -5 -5 
L 5 5 
" transform="translate(239.3856 493.56)" style="fill: #2ca02c; stroke: #2ca02c"/>
     <path d="M -5 5 
L 5 -5 
M -5 -5 
L 5 5 
" transform="translate(252.62352 487.224)" style="fill: #2ca02c; stroke: #2ca02c"/>
     <path d="M -5 5 
L 5 -5 
M -5 -5 
L 5 5 
" transform="translate(265.86144 479.952)" style="fill: #2ca02c; stroke: #2ca02c"/>
     <path d="M -5 5 
L 5 -5 
M -5 -5 
L 5 5 
" transform="translate(279.09936 472.68)" style="fill: #2ca02c; stroke: #2ca02c"/>
     <path d="M -5 5 
L 5 -5 
M -5 -5 
L 5 5 
" transform="translate(292.33728 463.248)" style="fill: #2ca02c; stroke: #2ca02c"/>
     <path d="M -5 5 
L 5 -5 
M -5 -5 
L 5 5 
" transform="translate(305.5752 454.32)" style="fill: #2ca02c; stroke: #2ca02c"/>
     <path d="M -5 5 
L 5 -5 
M -5 -5 
L 5 5 
" transform="translate(318.81312 445.392)" style="fill: #2ca02c; stroke: #2ca02c"/>
     <path d="M -5 5 
L 5 -5 
M -5 -5 
L 5 5 
" transform="translate(332.05104 435.744)" style="fill: #2ca02c; stroke: #2ca02c"/>
     <path d="M -5 5 
L 5 -5 
M -5 -5 
L 5 5 
" transform="translate(345.28896 426.168)" style="fill: #2ca02c; stroke: #2ca02c"/>
     <path d="M -5 5 
L 5 -5 
M -5 -5 
L 5 5 
" transform="translate(358.52688 415.008)" style="fill: #2ca02c; stroke: #2ca02c"/>
     <path d="M -5 5 
L 5 -5 
M -5 -5 
L 5 5 
" transform="translate(371.7648 404.28)" style="fill: #2ca02c; stroke: #2ca02c"/>
     <path d="M -5 5 
L 5 -5 
M -5 -5 
L 5 5 
" transform="translate(385.00272 393.624)" style="fill: #2ca02c; stroke: #2ca02c"/>
     <path d="M -5 5 
L 5 -5 
M -5 -5 
L 5 5 
" transform="translate(398.24064 382.392)" style="fill: #2ca02c; stroke: #2ca02c"/>
     <path d="M -5 5 
L 5 -5 
M -5 -5 
L 5 5 
" transform="translate(411.47856 370.368)" style="fill: #2ca02c; stroke: #2ca02c"/>
     <path d="M -5 5 
L 5 -5 
M -5 -5 
L 5 5 
" transform="translate(424.71648 358.128)" style="fill: #2ca02c; stroke: #2ca02c"/>
     <path d="M -5 5 
L 5 -5 
M -5 -5 
L 5 5 
" transform="translate(437.9544 345.888)" style="fill: #2ca02c; stroke: #2ca02c"/>
     <path d="M -5 5 
L 5 -5 
M -5 -5 
L 5 5 
" transform="translate(451.19232 333.864)" style="fill: #2ca02c; stroke: #2ca02c"/>
     <path d="M -5 5 
L 5 -5 
M -5 -5 
L 5 5 
" transform="translate(464.43024 320.4)" style="fill: #2ca02c; stroke: #2ca02c"/>
     <path d="M -5 5 
L 5 -5 
M -5 -5 
L 5 5 
" transform="translate(477.66816 307.44)" style="fill: #2ca02c; stroke: #2ca02c"/>
     <path d="M -5 5 
L 5 -5 
M -5 -5 
L 5 5 
" transform="translate(490.90608 294.336)" style="fill: #2ca02c; stroke: #2ca02c"/>
     <path d="M -5 5 
L 5 -5 
M -5 -5 
L 5 5 
" transform="translate(504.144 281.088)" style="fill: #2ca02c; stroke: #2ca02c"/>
     <path d="M -5 5 
L 5 -5 
M -5 -5 
L 5 5 
" transform="translate(517.38192 267.624)" style="fill: #2ca02c; stroke: #2ca02c"/>
     <path d="M -5 5 
L 5 -5 
M -5 -5 
L 5 5 
" transform="translate(530.61984 254.376)" style="fill: #2ca02c; stroke: #2ca02c"/>
     <path d="M -5 5 
L 5 -5 
M -5 -5 
L 5 5 
" transform="translate(543.85776 241.416)" style="fill: #2ca02c; stroke: #2ca02c"/>
     <path d="M -5 5 
L 5 -5 
M -5 -5 
L 5 5 
" transform="translate(557.09568 229.104)" style="fill: #2ca02c; stroke: #2ca02c"/>
     <path d="M -5 5 
L 5 -5 
M -5 -5 
L 5 5 
" transform="translate(570.3336 215.64)" style="fill: #2ca02c; stroke: #2ca02c"/>
     <path d="M -5 5 
L 5 -5 
M -5 -5 
L 5 5 
" transform="translate(583.57152 205.488)" style="fill: #2ca02c; stroke: #2ca02c"/>
     <path d="M -5 5 
L 5 -5 
M -5 -5 
L 5 5 
" transform="translate(596.80944 204.84)" style="fill: #2ca02c; stroke: #2ca02c"/>
     <path d="M -5 5 
L 5 -5 
M -5 -5 
L 5 5 
" transform="translate(610.04736 214.344)" style="fill: #2ca02c; stroke: #2ca02c"/>
     <path d="M -5 5 
L 5 -5 
M -5 -5 
L 5 5 
" transform="translate(623.28528 226.584)" style="fill: #2ca02c; stroke: #2ca02c"/>
     <path d="M -5 5 
L 5 -5 
M -5 -5 
L 5 5 
" transform="translate(636.5232 239.04)" style="fill: #2ca02c; stroke: #2ca02c"/>
     <path d="M -5 5 
L 5 -5 
M -5 -5 
L 5 5 
" transform="translate(649.76112 252.792)" style="fill: #2ca02c; stroke: #2ca02c"/>
     <path d="M -5 5 
L 5 -5 
M -5 -5 
L 5 5 
" transform="translate(662.99904 266.328)" style="fill: #2ca02c; stroke: #2ca02c"/>
     <path d="M -5 5 
L 5 -5 
M -5 -5 
L 5 5 
" transform="translate(676.23696 279.504)" style="fill: #2ca02c; stroke: #2ca02c"/>
     <path d="M -5 5 
L 5 -5 
M -5 -5 
L 5 5 
" transform="translate(689.47488 293.112)" style="fill: #2ca02c; stroke: #2ca02c"/>
     <path d="M -5 5 
L 5 -5 
M -5 -5 
L 5 5 
" transform="translate(702.7128 306.288)" style="fill: #2ca02c; stroke: #2ca02c"/>
     <path d="M -5 5 
L 5 -5 
M -5 -5 
L 5 5 
" transform="translate(715.95072 319.176)" style="fill: #2ca02c; stroke: #2ca02c"/>
     <path d="M -5 5 
L 5 -5 
M -5 -5 
L 5 5 
" transform="translate(729.18864 331.992)" style="fill: #2ca02c; stroke: #2ca02c"/>
     <path d="M -5 5 
L 5 -5 
M -5 -5 
L 5 5 
" transform="translate(742.42656 344.664)" style="fill: #2ca02c; stroke: #2ca02c"/>
     <path d="M -5 5 
L 5 -5 
M -5 -5 
L 5 5 
" transform="translate(755.66448 356.112)" style="fill: #2ca02c; stroke: #2ca02c"/>
     <path d="M -5 5 
L 5 -5 
M -5 -5 
L 5 5 
" transform="translate(768.9024 368.928)" style="fill: #2ca02c; stroke: #2ca02c"/>
     <path d="M -5 5 
L 5 -5 
M -5 -5 
L 5 5 
" transform="translate(782.14032 381.24)" style="fill: #2ca02c; stroke: #2ca02c"/>
     <path d="M -5 5 
L 5 -5 
M -5 -5 
L 5 5 
" transform="translate(795.37824 392.544)" style="fill: #2ca02c; stroke: #2ca02c"/>
     <path d="M -5 5 
L 5 -5 
M -5 -5 
L 5 5 
" transform="translate(808.61616 403.632)" style="fill: #2ca02c; stroke: #2ca02c"/>
     <path d="M -5 5 
L 5 -5 
M -5 -5 
L 5 5 
" transform="translate(821.85408 415.08)" style="fill: #2ca02c; stroke: #2ca02c"/>
     <path d="M -5 5 
L 5 -5 
M -5 -5 
L 5 5 
" transform="translate(835.092 425.592)" style="fill: #2ca02c; stroke: #2ca02c"/>
     <path d="M -5 5 
L 5 -5 
M -5 -5 
L 5 5 
" transform="translate(848.32992 435.312)" style="fill: #2ca02c; stroke: #2ca02c"/>
     <path d="M -5 5 
L 5 -5 
M -5 -5 
L 5 5 
" transform="translate(861.56784 445.464)" style="fill: #2ca02c; stroke: #2ca02c"/>
     <path d="M -5 5 
L 5 -5 
M -5 -5 
L 5 5 
" transform="translate(874.80576 454.752)" style="fill: #2ca02c; stroke: #2ca02c"/>
     <path d="M -5 5 
L 5 -5 
M -5 -5 
L 5 5 
" transform="translate(888.04368 463.392)" style="fill: #2ca02c; stroke: #2ca02c"/>
     <path d="M -5 5 
L 5 -5 
M -5 -5 
L 5 5 
" transform="translate(901.2816 471.24)" style="fill: #2ca02c; stroke: #2ca02c"/>
     <path d="M -5 5 
L 5 -5 
M -5 -5 
L 5 5 
" transform="translate(914.51952 479.52)" style="fill: #2ca02c; stroke: #2ca02c"/>
     <path d="M -5 5 
L 5 -5 
M -5 -5 
L 5 5 
" transform="translate(927.75744 486.576)" style="fill: #2ca02c; stroke: #2ca02c"/>
     <path d="M -5 5 
L 5 -5 
M -5 -5 
L 5 5 
" transform="translate(940.99536 492.768)" style="fill: #2ca02c; stroke: #2ca02c"/>
     <path d="M -5 5 
L 5 -5 
M -5 -5 
L 5 5 
" transform="translate(954.23328 500.04)" style="fill: #2ca02c; stroke: #2ca02c"/>
     <path d="M -5 5 
L 5 -5 
M -5 -5 
L 5 5 
" transform="translate(967.4712 504.648)" style="fill: #2ca02c; stroke: #2ca02c"/>
     <path d="M -5 5 
L 5 -5 
M -5 -5 
L 5 5 
" transform="translate(980.70912 509.328)" style="fill: #2ca02c; stroke: #2ca02c"/>
     <path d="M -5 5 
L 5 -5 
M -5 -5 
L 5 5 
" transform="translate(993.94704 513)" style="fill: #2ca02c; stroke: #2ca02c"/>
     <path d="M -5 5 
L 5 -5 
M -5 -5 
L 5 5 
" transform="translate(1007.18496 516.6)" style="fill: #2ca02c; stroke: #2ca02c"/>
     <path d="M -5 5 
L 5 -5 
M -5 -5 
L 5 5 
" transform="translate(1020.42288 519.408)" style="fill: #2ca02c; stroke: #2ca02c"/>
     <path d="M -5 5 
L 5 -5 
M -5 -5 
L 5 5 
" transform="translate(1033.6608 521.496)" style="fill: #2ca02c; stroke: #2ca02c"/>
     <path d="M -5 5 
L 5 -5 
M -5 -5 
L 5 5 
" transform="translate(1046.89872 522.936)" style="fill: #2ca02c; stroke: #2ca02c"/>
     <path d="M -5 5 
L 5 -5 
M -5 -5 
L 5 5 
" transform="translate(1060.13664 523.512)" style="fill: #2ca02c; stroke: #2ca02c"/>
     <path d="M -5 5 
L 5 -5 
M -5 -5 
L 5 5 
" transform="translate(1073.37456 523.512)" style="fill: #2ca02c; stroke: #2ca02c"/>
     <path d="M -5 5 
L 5 -5 
M -5 -5 
L 5 5 
" transform="translate(1086.61248 522.936)" style="fill: #2ca02c; stroke: #2ca02c"/>
     <path d="M -5 5 
L 5 -5 
M -5 -5 
L 5 5 
" transform="translate(1099.8504 521.064)" style="fill: #2ca02c; stroke: #2ca02c"/>
    </g>
   </g>
   <g id="line2d_25">
    <path d="M 159.95808 492.264 
L 173.196 487.224 
L 186.43392 482.112 
L 199.67184 477 
L 212.90976 470.664 
L 226.14768 464.832 
L 239.3856 457.488 
L 252.62352 450.576 
L 265.86144 442.512 
L 279.09936 433.584 
L 292.33728 424.8 
L 305.5752 415.584 
L 318.81312 406.296 
L 332.05104 396.144 
L 345.28896 386.352 
L 358.52688 375.624 
L 371.7648 364.608 
L 385.00272 353.664 
L 398.24064 342.072 
L 411.47856 331.2 
L 424.71648 319.464 
L 437.9544 307.8 
L 451.19232 296.136 
L 464.43024 284.472 
L 477.66816 272.376 
L 490.90608 262.08 
L 504.144 250.2 
L 517.38192 240.48 
L 530.61984 231.336 
L 543.85776 226.224 
L 557.09568 224.064 
L 570.3336 227.736 
L 583.57152 235.008 
L 596.80944 243.432 
L 610.04736 254.376 
L 623.28528 265.248 
L 636.5232 276.984 
L 649.76112 288.864 
L 662.99904 300.672 
L 676.23696 312.12 
L 689.47488 323.568 
L 702.7128 335.376 
L 715.95072 346.824 
L 729.18864 357.912 
L 742.42656 369.36 
L 755.66448 379.872 
L 768.9024 389.88 
L 782.14032 400.104 
L 795.37824 410.112 
L 808.61616 419.472 
L 821.85408 427.752 
L 835.092 436.68 
L 848.32992 445.32 
L 861.56784 452.448 
L 874.80576 460.512 
L 888.04368 466.848 
L 901.2816 473.544 
L 914.51952 478.584 
L 927.75744 483.552 
L 940.99536 488.52 
L 954.23328 492.12 
L 967.4712 495.864 
L 980.70912 498.744 
L 993.94704 500.04 
L 1007.18496 501.48 
L 1020.42288 502.848 
L 1033.6608 502.704 
L 1046.89872 501.984 
L 1060.13664 500.976 
L 1073.37456 499.464 
L 1086.61248 497.16 
L 1099.8504 493.632 
" clip-path="url(#p12b262372b)" style="fill: none; stroke: #d62728; stroke-width: 2; stroke-linecap: square"/>
    <defs>
     
    </defs>
    <g clip-path="url(#p12b262372b)">
     <path d="M 0 5 
C 1.326016 5 2.597899 4.473168 3.535534 3.535534 
C 4.473168 2.597899 5 1.326016 5 0 
C 5 -1.326016 4.473168 -2.597899 3.535534 -3.535534 
C 2.597899 -4.473168 1.326016 -5 0 -5 
C -1.326016 -5 -2.597899 -4.473168 -3.535534 -3.535534 
C -4.473168 -2.597899 -5 -1.326016 -5 0 
C -5 1.326016 -4.473168 2.597899 -3.535534 3.535534 
C -2.597899 4.473168 -1.326016 5 0 5 
z
" transform="translate(159.95808 492.264)" style="fill: #d62728; stroke: #d62728"/>
     <path d="M 0 5 
C 1.326016 5 2.597899 4.473168 3.535534 3.535534 
C 4.473168 2.597899 5 1.326016 5 0 
C 5 -1.326016 4.473168 -2.597899 3.535534 -3.535534 
C 2.597899 -4.473168 1.326016 -5 0 -5 
C -1.326016 -5 -2.597899 -4.473168 -3.535534 -3.535534 
C -4.473168 -2.597899 -5 -1.326016 -5 0 
C -5 1.326016 -4.473168 2.597899 -3.535534 3.535534 
C -2.597899 4.473168 -1.326016 5 0 5 
z
" transform="translate(173.196 487.224)" style="fill: #d62728; stroke: #d62728"/>
     <path d="M 0 5 
C 1.326016 5 2.597899 4.473168 3.535534 3.535534 
C 4.473168 2.597899 5 1.326016 5 0 
C 5 -1.326016 4.473168 -2.597899 3.535534 -3.535534 
C 2.597899 -4.473168 1.326016 -5 0 -5 
C -1.326016 -5 -2.597899 -4.473168 -3.535534 -3.535534 
C -4.473168 -2.597899 -5 -1.326016 -5 0 
C -5 1.326016 -4.473168 2.597899 -3.535534 3.535534 
C -2.597899 4.473168 -1.326016 5 0 5 
z
" transform="translate(186.43392 482.112)" style="fill: #d62728; stroke: #d62728"/>
     <path d="M 0 5 
C 1.326016 5 2.597899 4.473168 3.535534 3.535534 
C 4.473168 2.597899 5 1.326016 5 0 
C 5 -1.326016 4.473168 -2.597899 3.535534 -3.535534 
C 2.597899 -4.473168 1.326016 -5 0 -5 
C -1.326016 -5 -2.597899 -4.473168 -3.535534 -3.535534 
C -4.473168 -2.597899 -5 -1.326016 -5 0 
C -5 1.326016 -4.473168 2.597899 -3.535534 3.535534 
C -2.597899 4.473168 -1.326016 5 0 5 
z
" transform="translate(199.67184 477)" style="fill: #d62728; stroke: #d62728"/>
     <path d="M 0 5 
C 1.326016 5 2.597899 4.473168 3.535534 3.535534 
C 4.473168 2.597899 5 1.326016 5 0 
C 5 -1.326016 4.473168 -2.597899 3.535534 -3.535534 
C 2.597899 -4.473168 1.326016 -5 0 -5 
C -1.326016 -5 -2.597899 -4.473168 -3.535534 -3.535534 
C -4.473168 -2.597899 -5 -1.326016 -5 0 
C -5 1.326016 -4.473168 2.597899 -3.535534 3.535534 
C -2.597899 4.473168 -1.326016 5 0 5 
z
" transform="translate(212.90976 470.664)" style="fill: #d62728; stroke: #d62728"/>
     <path d="M 0 5 
C 1.326016 5 2.597899 4.473168 3.535534 3.535534 
C 4.473168 2.597899 5 1.326016 5 0 
C 5 -1.326016 4.473168 -2.597899 3.535534 -3.535534 
C 2.597899 -4.473168 1.326016 -5 0 -5 
C -1.326016 -5 -2.597899 -4.473168 -3.535534 -3.535534 
C -4.473168 -2.597899 -5 -1.326016 -5 0 
C -5 1.326016 -4.473168 2.597899 -3.535534 3.535534 
C -2.597899 4.473168 -1.326016 5 0 5 
z
" transform="translate(226.14768 464.832)" style="fill: #d62728; stroke: #d62728"/>
     <path d="M 0 5 
C 1.326016 5 2.597899 4.473168 3.535534 3.535534 
C 4.473168 2.597899 5 1.326016 5 0 
C 5 -1.326016 4.473168 -2.597899 3.535534 -3.535534 
C 2.597899 -4.473168 1.326016 -5 0 -5 
C -1.326016 -5 -2.597899 -4.473168 -3.535534 -3.535534 
C -4.473168 -2.597899 -5 -1.326016 -5 0 
C -5 1.326016 -4.473168 2.597899 -3.535534 3.535534 
C -2.597899 4.473168 -1.326016 5 0 5 
z
" transform="translate(239.3856 457.488)" style="fill: #d62728; stroke: #d62728"/>
     <path d="M 0 5 
C 1.326016 5 2.597899 4.473168 3.535534 3.535534 
C 4.473168 2.597899 5 1.326016 5 0 
C 5 -1.326016 4.473168 -2.597899 3.535534 -3.535534 
C 2.597899 -4.473168 1.326016 -5 0 -5 
C -1.326016 -5 -2.597899 -4.473168 -3.535534 -3.535534 
C -4.473168 -2.597899 -5 -1.326016 -5 0 
C -5 1.326016 -4.473168 2.597899 -3.535534 3.535534 
C -2.597899 4.473168 -1.326016 5 0 5 
z
" transform="translate(252.62352 450.576)" style="fill: #d62728; stroke: #d62728"/>
     <path d="M 0 5 
C 1.326016 5 2.597899 4.473168 3.535534 3.535534 
C 4.473168 2.597899 5 1.326016 5 0 
C 5 -1.326016 4.473168 -2.597899 3.535534 -3.535534 
C 2.597899 -4.473168 1.326016 -5 0 -5 
C -1.326016 -5 -2.597899 -4.473168 -3.535534 -3.535534 
C -4.473168 -2.597899 -5 -1.326016 -5 0 
C -5 1.326016 -4.473168 2.597899 -3.535534 3.535534 
C -2.597899 4.473168 -1.326016 5 0 5 
z
" transform="translate(265.86144 442.512)" style="fill: #d62728; stroke: #d62728"/>
     <path d="M 0 5 
C 1.326016 5 2.597899 4.473168 3.535534 3.535534 
C 4.473168 2.597899 5 1.326016 5 0 
C 5 -1.326016 4.473168 -2.597899 3.535534 -3.535534 
C 2.597899 -4.473168 1.326016 -5 0 -5 
C -1.326016 -5 -2.597899 -4.473168 -3.535534 -3.535534 
C -4.473168 -2.597899 -5 -1.326016 -5 0 
C -5 1.326016 -4.473168 2.597899 -3.535534 3.535534 
C -2.597899 4.473168 -1.326016 5 0 5 
z
" transform="translate(279.09936 433.584)" style="fill: #d62728; stroke: #d62728"/>
     <path d="M 0 5 
C 1.326016 5 2.597899 4.473168 3.535534 3.535534 
C 4.473168 2.597899 5 1.326016 5 0 
C 5 -1.326016 4.473168 -2.597899 3.535534 -3.535534 
C 2.597899 -4.473168 1.326016 -5 0 -5 
C -1.326016 -5 -2.597899 -4.473168 -3.535534 -3.535534 
C -4.473168 -2.597899 -5 -1.326016 -5 0 
C -5 1.326016 -4.473168 2.597899 -3.535534 3.535534 
C -2.597899 4.473168 -1.326016 5 0 5 
z
" transform="translate(292.33728 424.8)" style="fill: #d62728; stroke: #d62728"/>
     <path d="M 0 5 
C 1.326016 5 2.597899 4.473168 3.535534 3.535534 
C 4.473168 2.597899 5 1.326016 5 0 
C 5 -1.326016 4.473168 -2.597899 3.535534 -3.535534 
C 2.597899 -4.473168 1.326016 -5 0 -5 
C -1.326016 -5 -2.597899 -4.473168 -3.535534 -3.535534 
C -4.473168 -2.597899 -5 -1.326016 -5 0 
C -5 1.326016 -4.473168 2.597899 -3.535534 3.535534 
C -2.597899 4.473168 -1.326016 5 0 5 
z
" transform="translate(305.5752 415.584)" style="fill: #d62728; stroke: #d62728"/>
     <path d="M 0 5 
C 1.326016 5 2.597899 4.473168 3.535534 3.535534 
C 4.473168 2.597899 5 1.326016 5 0 
C 5 -1.326016 4.473168 -2.597899 3.535534 -3.535534 
C 2.597899 -4.473168 1.326016 -5 0 -5 
C -1.326016 -5 -2.597899 -4.473168 -3.535534 -3.535534 
C -4.473168 -2.597899 -5 -1.326016 -5 0 
C -5 1.326016 -4.473168 2.597899 -3.535534 3.535534 
C -2.597899 4.473168 -1.326016 5 0 5 
z
" transform="translate(318.81312 406.296)" style="fill: #d62728; stroke: #d62728"/>
     <path d="M 0 5 
C 1.326016 5 2.597899 4.473168 3.535534 3.535534 
C 4.473168 2.597899 5 1.326016 5 0 
C 5 -1.326016 4.473168 -2.597899 3.535534 -3.535534 
C 2.597899 -4.473168 1.326016 -5 0 -5 
C -1.326016 -5 -2.597899 -4.473168 -3.535534 -3.535534 
C -4.473168 -2.597899 -5 -1.326016 -5 0 
C -5 1.326016 -4.473168 2.597899 -3.535534 3.535534 
C -2.597899 4.473168 -1.326016 5 0 5 
z
" transform="translate(332.05104 396.144)" style="fill: #d62728; stroke: #d62728"/>
     <path d="M 0 5 
C 1.326016 5 2.597899 4.473168 3.535534 3.535534 
C 4.473168 2.597899 5 1.326016 5 0 
C 5 -1.326016 4.473168 -2.597899 3.535534 -3.535534 
C 2.597899 -4.473168 1.326016 -5 0 -5 
C -1.326016 -5 -2.597899 -4.473168 -3.535534 -3.535534 
C -4.473168 -2.597899 -5 -1.326016 -5 0 
C -5 1.326016 -4.473168 2.597899 -3.535534 3.535534 
C -2.597899 4.473168 -1.326016 5 0 5 
z
" transform="translate(345.28896 386.352)" style="fill: #d62728; stroke: #d62728"/>
     <path d="M 0 5 
C 1.326016 5 2.597899 4.473168 3.535534 3.535534 
C 4.473168 2.597899 5 1.326016 5 0 
C 5 -1.326016 4.473168 -2.597899 3.535534 -3.535534 
C 2.597899 -4.473168 1.326016 -5 0 -5 
C -1.326016 -5 -2.597899 -4.473168 -3.535534 -3.535534 
C -4.473168 -2.597899 -5 -1.326016 -5 0 
C -5 1.326016 -4.473168 2.597899 -3.535534 3.535534 
C -2.597899 4.473168 -1.326016 5 0 5 
z
" transform="translate(358.52688 375.624)" style="fill: #d62728; stroke: #d62728"/>
     <path d="M 0 5 
C 1.326016 5 2.597899 4.473168 3.535534 3.535534 
C 4.473168 2.597899 5 1.326016 5 0 
C 5 -1.326016 4.473168 -2.597899 3.535534 -3.535534 
C 2.597899 -4.473168 1.326016 -5 0 -5 
C -1.326016 -5 -2.597899 -4.473168 -3.535534 -3.535534 
C -4.473168 -2.597899 -5 -1.326016 -5 0 
C -5 1.326016 -4.473168 2.597899 -3.535534 3.535534 
C -2.597899 4.473168 -1.326016 5 0 5 
z
" transform="translate(371.7648 364.608)" style="fill: #d62728; stroke: #d62728"/>
     <path d="M 0 5 
C 1.326016 5 2.597899 4.473168 3.535534 3.535534 
C 4.473168 2.597899 5 1.326016 5 0 
C 5 -1.326016 4.473168 -2.597899 3.535534 -3.535534 
C 2.597899 -4.473168 1.326016 -5 0 -5 
C -1.326016 -5 -2.597899 -4.473168 -3.535534 -3.535534 
C -4.473168 -2.597899 -5 -1.326016 -5 0 
C -5 1.326016 -4.473168 2.597899 -3.535534 3.535534 
C -2.597899 4.473168 -1.326016 5 0 5 
z
" transform="translate(385.00272 353.664)" style="fill: #d62728; stroke: #d62728"/>
     <path d="M 0 5 
C 1.326016 5 2.597899 4.473168 3.535534 3.535534 
C 4.473168 2.597899 5 1.326016 5 0 
C 5 -1.326016 4.473168 -2.597899 3.535534 -3.535534 
C 2.597899 -4.473168 1.326016 -5 0 -5 
C -1.326016 -5 -2.597899 -4.473168 -3.535534 -3.535534 
C -4.473168 -2.597899 -5 -1.326016 -5 0 
C -5 1.326016 -4.473168 2.597899 -3.535534 3.535534 
C -2.597899 4.473168 -1.326016 5 0 5 
z
" transform="translate(398.24064 342.072)" style="fill: #d62728; stroke: #d62728"/>
     <path d="M 0 5 
C 1.326016 5 2.597899 4.473168 3.535534 3.535534 
C 4.473168 2.597899 5 1.326016 5 0 
C 5 -1.326016 4.473168 -2.597899 3.535534 -3.535534 
C 2.597899 -4.473168 1.326016 -5 0 -5 
C -1.326016 -5 -2.597899 -4.473168 -3.535534 -3.535534 
C -4.473168 -2.597899 -5 -1.326016 -5 0 
C -5 1.326016 -4.473168 2.597899 -3.535534 3.535534 
C -2.597899 4.473168 -1.326016 5 0 5 
z
" transform="translate(411.47856 331.2)" style="fill: #d62728; stroke: #d62728"/>
     <path d="M 0 5 
C 1.326016 5 2.597899 4.473168 3.535534 3.535534 
C 4.473168 2.597899 5 1.326016 5 0 
C 5 -1.326016 4.473168 -2.597899 3.535534 -3.535534 
C 2.597899 -4.473168 1.326016 -5 0 -5 
C -1.326016 -5 -2.597899 -4.473168 -3.535534 -3.535534 
C -4.473168 -2.597899 -5 -1.326016 -5 0 
C -5 1.326016 -4.473168 2.597899 -3.535534 3.535534 
C -2.597899 4.473168 -1.326016 5 0 5 
z
" transform="translate(424.71648 319.464)" style="fill: #d62728; stroke: #d62728"/>
     <path d="M 0 5 
C 1.326016 5 2.597899 4.473168 3.535534 3.535534 
C 4.473168 2.597899 5 1.326016 5 0 
C 5 -1.326016 4.473168 -2.597899 3.535534 -3.535534 
C 2.597899 -4.473168 1.326016 -5 0 -5 
C -1.326016 -5 -2.597899 -4.473168 -3.535534 -3.535534 
C -4.473168 -2.597899 -5 -1.326016 -5 0 
C -5 1.326016 -4.473168 2.597899 -3.535534 3.535534 
C -2.597899 4.473168 -1.326016 5 0 5 
z
" transform="translate(437.9544 307.8)" style="fill: #d62728; stroke: #d62728"/>
     <path d="M 0 5 
C 1.326016 5 2.597899 4.473168 3.535534 3.535534 
C 4.473168 2.597899 5 1.326016 5 0 
C 5 -1.326016 4.473168 -2.597899 3.535534 -3.535534 
C 2.597899 -4.473168 1.326016 -5 0 -5 
C -1.326016 -5 -2.597899 -4.473168 -3.535534 -3.535534 
C -4.473168 -2.597899 -5 -1.326016 -5 0 
C -5 1.326016 -4.473168 2.597899 -3.535534 3.535534 
C -2.597899 4.473168 -1.326016 5 0 5 
z
" transform="translate(451.19232 296.136)" style="fill: #d62728; stroke: #d62728"/>
     <path d="M 0 5 
C 1.326016 5 2.597899 4.473168 3.535534 3.535534 
C 4.473168 2.597899 5 1.326016 5 0 
C 5 -1.326016 4.473168 -2.597899 3.535534 -3.535534 
C 2.597899 -4.473168 1.326016 -5 0 -5 
C -1.326016 -5 -2.597899 -4.473168 -3.535534 -3.535534 
C -4.473168 -2.597899 -5 -1.326016 -5 0 
C -5 1.326016 -4.473168 2.597899 -3.535534 3.535534 
C -2.597899 4.473168 -1.326016 5 0 5 
z
" transform="translate(464.43024 284.472)" style="fill: #d62728; stroke: #d62728"/>
     <path d="M 0 5 
C 1.326016 5 2.597899 4.473168 3.535534 3.535534 
C 4.473168 2.597899 5 1.326016 5 0 
C 5 -1.326016 4.473168 -2.597899 3.535534 -3.535534 
C 2.597899 -4.473168 1.326016 -5 0 -5 
C -1.326016 -5 -2.597899 -4.473168 -3.535534 -3.535534 
C -4.473168 -2.597899 -5 -1.326016 -5 0 
C -5 1.326016 -4.473168 2.597899 -3.535534 3.535534 
C -2.597899 4.473168 -1.326016 5 0 5 
z
" transform="translate(477.66816 272.376)" style="fill: #d62728; stroke: #d62728"/>
     <path d="M 0 5 
C 1.326016 5 2.597899 4.473168 3.535534 3.535534 
C 4.473168 2.597899 5 1.326016 5 0 
C 5 -1.326016 4.473168 -2.597899 3.535534 -3.535534 
C 2.597899 -4.473168 1.326016 -5 0 -5 
C -1.326016 -5 -2.597899 -4.473168 -3.535534 -3.535534 
C -4.473168 -2.597899 -5 -1.326016 -5 0 
C -5 1.326016 -4.473168 2.597899 -3.535534 3.535534 
C -2.597899 4.473168 -1.326016 5 0 5 
z
" transform="translate(490.90608 262.08)" style="fill: #d62728; stroke: #d62728"/>
     <path d="M 0 5 
C 1.326016 5 2.597899 4.473168 3.535534 3.535534 
C 4.473168 2.597899 5 1.326016 5 0 
C 5 -1.326016 4.473168 -2.597899 3.535534 -3.535534 
C 2.597899 -4.473168 1.326016 -5 0 -5 
C -1.326016 -5 -2.597899 -4.473168 -3.535534 -3.535534 
C -4.473168 -2.597899 -5 -1.326016 -5 0 
C -5 1.326016 -4.473168 2.597899 -3.535534 3.535534 
C -2.597899 4.473168 -1.326016 5 0 5 
z
" transform="translate(504.144 250.2)" style="fill: #d62728; stroke: #d62728"/>
     <path d="M 0 5 
C 1.326016 5 2.597899 4.473168 3.535534 3.535534 
C 4.473168 2.597899 5 1.326016 5 0 
C 5 -1.326016 4.473168 -2.597899 3.535534 -3.535534 
C 2.597899 -4.473168 1.326016 -5 0 -5 
C -1.326016 -5 -2.597899 -4.473168 -3.535534 -3.535534 
C -4.473168 -2.597899 -5 -1.326016 -5 0 
C -5 1.326016 -4.473168 2.597899 -3.535534 3.535534 
C -2.597899 4.473168 -1.326016 5 0 5 
z
" transform="translate(517.38192 240.48)" style="fill: #d62728; stroke: #d62728"/>
     <path d="M 0 5 
C 1.326016 5 2.597899 4.473168 3.535534 3.535534 
C 4.473168 2.597899 5 1.326016 5 0 
C 5 -1.326016 4.473168 -2.597899 3.535534 -3.535534 
C 2.597899 -4.473168 1.326016 -5 0 -5 
C -1.326016 -5 -2.597899 -4.473168 -3.535534 -3.535534 
C -4.473168 -2.597899 -5 -1.326016 -5 0 
C -5 1.326016 -4.473168 2.597899 -3.535534 3.535534 
C -2.597899 4.473168 -1.326016 5 0 5 
z
" transform="translate(530.61984 231.336)" style="fill: #d62728; stroke: #d62728"/>
     <path d="M 0 5 
C 1.326016 5 2.597899 4.473168 3.535534 3.535534 
C 4.473168 2.597899 5 1.326016 5 0 
C 5 -1.326016 4.473168 -2.597899 3.535534 -3.535534 
C 2.597899 -4.473168 1.326016 -5 0 -5 
C -1.326016 -5 -2.597899 -4.473168 -3.535534 -3.535534 
C -4.473168 -2.597899 -5 -1.326016 -5 0 
C -5 1.326016 -4.473168 2.597899 -3.535534 3.535534 
C -2.597899 4.473168 -1.326016 5 0 5 
z
" transform="translate(543.85776 226.224)" style="fill: #d62728; stroke: #d62728"/>
     <path d="M 0 5 
C 1.326016 5 2.597899 4.473168 3.535534 3.535534 
C 4.473168 2.597899 5 1.326016 5 0 
C 5 -1.326016 4.473168 -2.597899 3.535534 -3.535534 
C 2.597899 -4.473168 1.326016 -5 0 -5 
C -1.326016 -5 -2.597899 -4.473168 -3.535534 -3.535534 
C -4.473168 -2.597899 -5 -1.326016 -5 0 
C -5 1.326016 -4.473168 2.597899 -3.535534 3.535534 
C -2.597899 4.473168 -1.326016 5 0 5 
z
" transform="translate(557.09568 224.064)" style="fill: #d62728; stroke: #d62728"/>
     <path d="M 0 5 
C 1.326016 5 2.597899 4.473168 3.535534 3.535534 
C 4.473168 2.597899 5 1.326016 5 0 
C 5 -1.326016 4.473168 -2.597899 3.535534 -3.535534 
C 2.597899 -4.473168 1.326016 -5 0 -5 
C -1.326016 -5 -2.597899 -4.473168 -3.535534 -3.535534 
C -4.473168 -2.597899 -5 -1.326016 -5 0 
C -5 1.326016 -4.473168 2.597899 -3.535534 3.535534 
C -2.597899 4.473168 -1.326016 5 0 5 
z
" transform="translate(570.3336 227.736)" style="fill: #d62728; stroke: #d62728"/>
     <path d="M 0 5 
C 1.326016 5 2.597899 4.473168 3.535534 3.535534 
C 4.473168 2.597899 5 1.326016 5 0 
C 5 -1.326016 4.473168 -2.597899 3.535534 -3.535534 
C 2.597899 -4.473168 1.326016 -5 0 -5 
C -1.326016 -5 -2.597899 -4.473168 -3.535534 -3.535534 
C -4.473168 -2.597899 -5 -1.326016 -5 0 
C -5 1.326016 -4.473168 2.597899 -3.535534 3.535534 
C -2.597899 4.473168 -1.326016 5 0 5 
z
" transform="translate(583.57152 235.008)" style="fill: #d62728; stroke: #d62728"/>
     <path d="M 0 5 
C 1.326016 5 2.597899 4.473168 3.535534 3.535534 
C 4.473168 2.597899 5 1.326016 5 0 
C 5 -1.326016 4.473168 -2.597899 3.535534 -3.535534 
C 2.597899 -4.473168 1.326016 -5 0 -5 
C -1.326016 -5 -2.597899 -4.473168 -3.535534 -3.535534 
C -4.473168 -2.597899 -5 -1.326016 -5 0 
C -5 1.326016 -4.473168 2.597899 -3.535534 3.535534 
C -2.597899 4.473168 -1.326016 5 0 5 
z
" transform="translate(596.80944 243.432)" style="fill: #d62728; stroke: #d62728"/>
     <path d="M 0 5 
C 1.326016 5 2.597899 4.473168 3.535534 3.535534 
C 4.473168 2.597899 5 1.326016 5 0 
C 5 -1.326016 4.473168 -2.597899 3.535534 -3.535534 
C 2.597899 -4.473168 1.326016 -5 0 -5 
C -1.326016 -5 -2.597899 -4.473168 -3.535534 -3.535534 
C -4.473168 -2.597899 -5 -1.326016 -5 0 
C -5 1.326016 -4.473168 2.597899 -3.535534 3.535534 
C -2.597899 4.473168 -1.326016 5 0 5 
z
" transform="translate(610.04736 254.376)" style="fill: #d62728; stroke: #d62728"/>
     <path d="M 0 5 
C 1.326016 5 2.597899 4.473168 3.535534 3.535534 
C 4.473168 2.597899 5 1.326016 5 0 
C 5 -1.326016 4.473168 -2.597899 3.535534 -3.535534 
C 2.597899 -4.473168 1.326016 -5 0 -5 
C -1.326016 -5 -2.597899 -4.473168 -3.535534 -3.535534 
C -4.473168 -2.597899 -5 -1.326016 -5 0 
C -5 1.326016 -4.473168 2.597899 -3.535534 3.535534 
C -2.597899 4.473168 -1.326016 5 0 5 
z
" transform="translate(623.28528 265.248)" style="fill: #d62728; stroke: #d62728"/>
     <path d="M 0 5 
C 1.326016 5 2.597899 4.473168 3.535534 3.535534 
C 4.473168 2.597899 5 1.326016 5 0 
C 5 -1.326016 4.473168 -2.597899 3.535534 -3.535534 
C 2.597899 -4.473168 1.326016 -5 0 -5 
C -1.326016 -5 -2.597899 -4.473168 -3.535534 -3.535534 
C -4.473168 -2.597899 -5 -1.326016 -5 0 
C -5 1.326016 -4.473168 2.597899 -3.535534 3.535534 
C -2.597899 4.473168 -1.326016 5 0 5 
z
" transform="translate(636.5232 276.984)" style="fill: #d62728; stroke: #d62728"/>
     <path d="M 0 5 
C 1.326016 5 2.597899 4.473168 3.535534 3.535534 
C 4.473168 2.597899 5 1.326016 5 0 
C 5 -1.326016 4.473168 -2.597899 3.535534 -3.535534 
C 2.597899 -4.473168 1.326016 -5 0 -5 
C -1.326016 -5 -2.597899 -4.473168 -3.535534 -3.535534 
C -4.473168 -2.597899 -5 -1.326016 -5 0 
C -5 1.326016 -4.473168 2.597899 -3.535534 3.535534 
C -2.597899 4.473168 -1.326016 5 0 5 
z
" transform="translate(649.76112 288.864)" style="fill: #d62728; stroke: #d62728"/>
     <path d="M 0 5 
C 1.326016 5 2.597899 4.473168 3.535534 3.535534 
C 4.473168 2.597899 5 1.326016 5 0 
C 5 -1.326016 4.473168 -2.597899 3.535534 -3.535534 
C 2.597899 -4.473168 1.326016 -5 0 -5 
C -1.326016 -5 -2.597899 -4.473168 -3.535534 -3.535534 
C -4.473168 -2.597899 -5 -1.326016 -5 0 
C -5 1.326016 -4.473168 2.597899 -3.535534 3.535534 
C -2.597899 4.473168 -1.326016 5 0 5 
z
" transform="translate(662.99904 300.672)" style="fill: #d62728; stroke: #d62728"/>
     <path d="M 0 5 
C 1.326016 5 2.597899 4.473168 3.535534 3.535534 
C 4.473168 2.597899 5 1.326016 5 0 
C 5 -1.326016 4.473168 -2.597899 3.535534 -3.535534 
C 2.597899 -4.473168 1.326016 -5 0 -5 
C -1.326016 -5 -2.597899 -4.473168 -3.535534 -3.535534 
C -4.473168 -2.597899 -5 -1.326016 -5 0 
C -5 1.326016 -4.473168 2.597899 -3.535534 3.535534 
C -2.597899 4.473168 -1.326016 5 0 5 
z
" transform="translate(676.23696 312.12)" style="fill: #d62728; stroke: #d62728"/>
     <path d="M 0 5 
C 1.326016 5 2.597899 4.473168 3.535534 3.535534 
C 4.473168 2.597899 5 1.326016 5 0 
C 5 -1.326016 4.473168 -2.597899 3.535534 -3.535534 
C 2.597899 -4.473168 1.326016 -5 0 -5 
C -1.326016 -5 -2.597899 -4.473168 -3.535534 -3.535534 
C -4.473168 -2.597899 -5 -1.326016 -5 0 
C -5 1.326016 -4.473168 2.597899 -3.535534 3.535534 
C -2.597899 4.473168 -1.326016 5 0 5 
z
" transform="translate(689.47488 323.568)" style="fill: #d62728; stroke: #d62728"/>
     <path d="M 0 5 
C 1.326016 5 2.597899 4.473168 3.535534 3.535534 
C 4.473168 2.597899 5 1.326016 5 0 
C 5 -1.326016 4.473168 -2.597899 3.535534 -3.535534 
C 2.597899 -4.473168 1.326016 -5 0 -5 
C -1.326016 -5 -2.597899 -4.473168 -3.535534 -3.535534 
C -4.473168 -2.597899 -5 -1.326016 -5 0 
C -5 1.326016 -4.473168 2.597899 -3.535534 3.535534 
C -2.597899 4.473168 -1.326016 5 0 5 
z
" transform="translate(702.7128 335.376)" style="fill: #d62728; stroke: #d62728"/>
     <path d="M 0 5 
C 1.326016 5 2.597899 4.473168 3.535534 3.535534 
C 4.473168 2.597899 5 1.326016 5 0 
C 5 -1.326016 4.473168 -2.597899 3.535534 -3.535534 
C 2.597899 -4.473168 1.326016 -5 0 -5 
C -1.326016 -5 -2.597899 -4.473168 -3.535534 -3.535534 
C -4.473168 -2.597899 -5 -1.326016 -5 0 
C -5 1.326016 -4.473168 2.597899 -3.535534 3.535534 
C -2.597899 4.473168 -1.326016 5 0 5 
z
" transform="translate(715.95072 346.824)" style="fill: #d62728; stroke: #d62728"/>
     <path d="M 0 5 
C 1.326016 5 2.597899 4.473168 3.535534 3.535534 
C 4.473168 2.597899 5 1.326016 5 0 
C 5 -1.326016 4.473168 -2.597899 3.535534 -3.535534 
C 2.597899 -4.473168 1.326016 -5 0 -5 
C -1.326016 -5 -2.597899 -4.473168 -3.535534 -3.535534 
C -4.473168 -2.597899 -5 -1.326016 -5 0 
C -5 1.326016 -4.473168 2.597899 -3.535534 3.535534 
C -2.597899 4.473168 -1.326016 5 0 5 
z
" transform="translate(729.18864 357.912)" style="fill: #d62728; stroke: #d62728"/>
     <path d="M 0 5 
C 1.326016 5 2.597899 4.473168 3.535534 3.535534 
C 4.473168 2.597899 5 1.326016 5 0 
C 5 -1.326016 4.473168 -2.597899 3.535534 -3.535534 
C 2.597899 -4.473168 1.326016 -5 0 -5 
C -1.326016 -5 -2.597899 -4.473168 -3.535534 -3.535534 
C -4.473168 -2.597899 -5 -1.326016 -5 0 
C -5 1.326016 -4.473168 2.597899 -3.535534 3.535534 
C -2.597899 4.473168 -1.326016 5 0 5 
z
" transform="translate(742.42656 369.36)" style="fill: #d62728; stroke: #d62728"/>
     <path d="M 0 5 
C 1.326016 5 2.597899 4.473168 3.535534 3.535534 
C 4.473168 2.597899 5 1.326016 5 0 
C 5 -1.326016 4.473168 -2.597899 3.535534 -3.535534 
C 2.597899 -4.473168 1.326016 -5 0 -5 
C -1.326016 -5 -2.597899 -4.473168 -3.535534 -3.535534 
C -4.473168 -2.597899 -5 -1.326016 -5 0 
C -5 1.326016 -4.473168 2.597899 -3.535534 3.535534 
C -2.597899 4.473168 -1.326016 5 0 5 
z
" transform="translate(755.66448 379.872)" style="fill: #d62728; stroke: #d62728"/>
     <path d="M 0 5 
C 1.326016 5 2.597899 4.473168 3.535534 3.535534 
C 4.473168 2.597899 5 1.326016 5 0 
C 5 -1.326016 4.473168 -2.597899 3.535534 -3.535534 
C 2.597899 -4.473168 1.326016 -5 0 -5 
C -1.326016 -5 -2.597899 -4.473168 -3.535534 -3.535534 
C -4.473168 -2.597899 -5 -1.326016 -5 0 
C -5 1.326016 -4.473168 2.597899 -3.535534 3.535534 
C -2.597899 4.473168 -1.326016 5 0 5 
z
" transform="translate(768.9024 389.88)" style="fill: #d62728; stroke: #d62728"/>
     <path d="M 0 5 
C 1.326016 5 2.597899 4.473168 3.535534 3.535534 
C 4.473168 2.597899 5 1.326016 5 0 
C 5 -1.326016 4.473168 -2.597899 3.535534 -3.535534 
C 2.597899 -4.473168 1.326016 -5 0 -5 
C -1.326016 -5 -2.597899 -4.473168 -3.535534 -3.535534 
C -4.473168 -2.597899 -5 -1.326016 -5 0 
C -5 1.326016 -4.473168 2.597899 -3.535534 3.535534 
C -2.597899 4.473168 -1.326016 5 0 5 
z
" transform="translate(782.14032 400.104)" style="fill: #d62728; stroke: #d62728"/>
     <path d="M 0 5 
C 1.326016 5 2.597899 4.473168 3.535534 3.535534 
C 4.473168 2.597899 5 1.326016 5 0 
C 5 -1.326016 4.473168 -2.597899 3.535534 -3.535534 
C 2.597899 -4.473168 1.326016 -5 0 -5 
C -1.326016 -5 -2.597899 -4.473168 -3.535534 -3.535534 
C -4.473168 -2.597899 -5 -1.326016 -5 0 
C -5 1.326016 -4.473168 2.597899 -3.535534 3.535534 
C -2.597899 4.473168 -1.326016 5 0 5 
z
" transform="translate(795.37824 410.112)" style="fill: #d62728; stroke: #d62728"/>
     <path d="M 0 5 
C 1.326016 5 2.597899 4.473168 3.535534 3.535534 
C 4.473168 2.597899 5 1.326016 5 0 
C 5 -1.326016 4.473168 -2.597899 3.535534 -3.535534 
C 2.597899 -4.473168 1.326016 -5 0 -5 
C -1.326016 -5 -2.597899 -4.473168 -3.535534 -3.535534 
C -4.473168 -2.597899 -5 -1.326016 -5 0 
C -5 1.326016 -4.473168 2.597899 -3.535534 3.535534 
C -2.597899 4.473168 -1.326016 5 0 5 
z
" transform="translate(808.61616 419.472)" style="fill: #d62728; stroke: #d62728"/>
     <path d="M 0 5 
C 1.326016 5 2.597899 4.473168 3.535534 3.535534 
C 4.473168 2.597899 5 1.326016 5 0 
C 5 -1.326016 4.473168 -2.597899 3.535534 -3.535534 
C 2.597899 -4.473168 1.326016 -5 0 -5 
C -1.326016 -5 -2.597899 -4.473168 -3.535534 -3.535534 
C -4.473168 -2.597899 -5 -1.326016 -5 0 
C -5 1.326016 -4.473168 2.597899 -3.535534 3.535534 
C -2.597899 4.473168 -1.326016 5 0 5 
z
" transform="translate(821.85408 427.752)" style="fill: #d62728; stroke: #d62728"/>
     <path d="M 0 5 
C 1.326016 5 2.597899 4.473168 3.535534 3.535534 
C 4.473168 2.597899 5 1.326016 5 0 
C 5 -1.326016 4.473168 -2.597899 3.535534 -3.535534 
C 2.597899 -4.473168 1.326016 -5 0 -5 
C -1.326016 -5 -2.597899 -4.473168 -3.535534 -3.535534 
C -4.473168 -2.597899 -5 -1.326016 -5 0 
C -5 1.326016 -4.473168 2.597899 -3.535534 3.535534 
C -2.597899 4.473168 -1.326016 5 0 5 
z
" transform="translate(835.092 436.68)" style="fill: #d62728; stroke: #d62728"/>
     <path d="M 0 5 
C 1.326016 5 2.597899 4.473168 3.535534 3.535534 
C 4.473168 2.597899 5 1.326016 5 0 
C 5 -1.326016 4.473168 -2.597899 3.535534 -3.535534 
C 2.597899 -4.473168 1.326016 -5 0 -5 
C -1.326016 -5 -2.597899 -4.473168 -3.535534 -3.535534 
C -4.473168 -2.597899 -5 -1.326016 -5 0 
C -5 1.326016 -4.473168 2.597899 -3.535534 3.535534 
C -2.597899 4.473168 -1.326016 5 0 5 
z
" transform="translate(848.32992 445.32)" style="fill: #d62728; stroke: #d62728"/>
     <path d="M 0 5 
C 1.326016 5 2.597899 4.473168 3.535534 3.535534 
C 4.473168 2.597899 5 1.326016 5 0 
C 5 -1.326016 4.473168 -2.597899 3.535534 -3.535534 
C 2.597899 -4.473168 1.326016 -5 0 -5 
C -1.326016 -5 -2.597899 -4.473168 -3.535534 -3.535534 
C -4.473168 -2.597899 -5 -1.326016 -5 0 
C -5 1.326016 -4.473168 2.597899 -3.535534 3.535534 
C -2.597899 4.473168 -1.326016 5 0 5 
z
" transform="translate(861.56784 452.448)" style="fill: #d62728; stroke: #d62728"/>
     <path d="M 0 5 
C 1.326016 5 2.597899 4.473168 3.535534 3.535534 
C 4.473168 2.597899 5 1.326016 5 0 
C 5 -1.326016 4.473168 -2.597899 3.535534 -3.535534 
C 2.597899 -4.473168 1.326016 -5 0 -5 
C -1.326016 -5 -2.597899 -4.473168 -3.535534 -3.535534 
C -4.473168 -2.597899 -5 -1.326016 -5 0 
C -5 1.326016 -4.473168 2.597899 -3.535534 3.535534 
C -2.597899 4.473168 -1.326016 5 0 5 
z
" transform="translate(874.80576 460.512)" style="fill: #d62728; stroke: #d62728"/>
     <path d="M 0 5 
C 1.326016 5 2.597899 4.473168 3.535534 3.535534 
C 4.473168 2.597899 5 1.326016 5 0 
C 5 -1.326016 4.473168 -2.597899 3.535534 -3.535534 
C 2.597899 -4.473168 1.326016 -5 0 -5 
C -1.326016 -5 -2.597899 -4.473168 -3.535534 -3.535534 
C -4.473168 -2.597899 -5 -1.326016 -5 0 
C -5 1.326016 -4.473168 2.597899 -3.535534 3.535534 
C -2.597899 4.473168 -1.326016 5 0 5 
z
" transform="translate(888.04368 466.848)" style="fill: #d62728; stroke: #d62728"/>
     <path d="M 0 5 
C 1.326016 5 2.597899 4.473168 3.535534 3.535534 
C 4.473168 2.597899 5 1.326016 5 0 
C 5 -1.326016 4.473168 -2.597899 3.535534 -3.535534 
C 2.597899 -4.473168 1.326016 -5 0 -5 
C -1.326016 -5 -2.597899 -4.473168 -3.535534 -3.535534 
C -4.473168 -2.597899 -5 -1.326016 -5 0 
C -5 1.326016 -4.473168 2.597899 -3.535534 3.535534 
C -2.597899 4.473168 -1.326016 5 0 5 
z
" transform="translate(901.2816 473.544)" style="fill: #d62728; stroke: #d62728"/>
     <path d="M 0 5 
C 1.326016 5 2.597899 4.473168 3.535534 3.535534 
C 4.473168 2.597899 5 1.326016 5 0 
C 5 -1.326016 4.473168 -2.597899 3.535534 -3.535534 
C 2.597899 -4.473168 1.326016 -5 0 -5 
C -1.326016 -5 -2.597899 -4.473168 -3.535534 -3.535534 
C -4.473168 -2.597899 -5 -1.326016 -5 0 
C -5 1.326016 -4.473168 2.597899 -3.535534 3.535534 
C -2.597899 4.473168 -1.326016 5 0 5 
z
" transform="translate(914.51952 478.584)" style="fill: #d62728; stroke: #d62728"/>
     <path d="M 0 5 
C 1.326016 5 2.597899 4.473168 3.535534 3.535534 
C 4.473168 2.597899 5 1.326016 5 0 
C 5 -1.326016 4.473168 -2.597899 3.535534 -3.535534 
C 2.597899 -4.473168 1.326016 -5 0 -5 
C -1.326016 -5 -2.597899 -4.473168 -3.535534 -3.535534 
C -4.473168 -2.597899 -5 -1.326016 -5 0 
C -5 1.326016 -4.473168 2.597899 -3.535534 3.535534 
C -2.597899 4.473168 -1.326016 5 0 5 
z
" transform="translate(927.75744 483.552)" style="fill: #d62728; stroke: #d62728"/>
     <path d="M 0 5 
C 1.326016 5 2.597899 4.473168 3.535534 3.535534 
C 4.473168 2.597899 5 1.326016 5 0 
C 5 -1.326016 4.473168 -2.597899 3.535534 -3.535534 
C 2.597899 -4.473168 1.326016 -5 0 -5 
C -1.326016 -5 -2.597899 -4.473168 -3.535534 -3.535534 
C -4.473168 -2.597899 -5 -1.326016 -5 0 
C -5 1.326016 -4.473168 2.597899 -3.535534 3.535534 
C -2.597899 4.473168 -1.326016 5 0 5 
z
" transform="translate(940.99536 488.52)" style="fill: #d62728; stroke: #d62728"/>
     <path d="M 0 5 
C 1.326016 5 2.597899 4.473168 3.535534 3.535534 
C 4.473168 2.597899 5 1.326016 5 0 
C 5 -1.326016 4.473168 -2.597899 3.535534 -3.535534 
C 2.597899 -4.473168 1.326016 -5 0 -5 
C -1.326016 -5 -2.597899 -4.473168 -3.535534 -3.535534 
C -4.473168 -2.597899 -5 -1.326016 -5 0 
C -5 1.326016 -4.473168 2.597899 -3.535534 3.535534 
C -2.597899 4.473168 -1.326016 5 0 5 
z
" transform="translate(954.23328 492.12)" style="fill: #d62728; stroke: #d62728"/>
     <path d="M 0 5 
C 1.326016 5 2.597899 4.473168 3.535534 3.535534 
C 4.473168 2.597899 5 1.326016 5 0 
C 5 -1.326016 4.473168 -2.597899 3.535534 -3.535534 
C 2.597899 -4.473168 1.326016 -5 0 -5 
C -1.326016 -5 -2.597899 -4.473168 -3.535534 -3.535534 
C -4.473168 -2.597899 -5 -1.326016 -5 0 
C -5 1.326016 -4.473168 2.597899 -3.535534 3.535534 
C -2.597899 4.473168 -1.326016 5 0 5 
z
" transform="translate(967.4712 495.864)" style="fill: #d62728; stroke: #d62728"/>
     <path d="M 0 5 
C 1.326016 5 2.597899 4.473168 3.535534 3.535534 
C 4.473168 2.597899 5 1.326016 5 0 
C 5 -1.326016 4.473168 -2.597899 3.535534 -3.535534 
C 2.597899 -4.473168 1.326016 -5 0 -5 
C -1.326016 -5 -2.597899 -4.473168 -3.535534 -3.535534 
C -4.473168 -2.597899 -5 -1.326016 -5 0 
C -5 1.326016 -4.473168 2.597899 -3.535534 3.535534 
C -2.597899 4.473168 -1.326016 5 0 5 
z
" transform="translate(980.70912 498.744)" style="fill: #d62728; stroke: #d62728"/>
     <path d="M 0 5 
C 1.326016 5 2.597899 4.473168 3.535534 3.535534 
C 4.473168 2.597899 5 1.326016 5 0 
C 5 -1.326016 4.473168 -2.597899 3.535534 -3.535534 
C 2.597899 -4.473168 1.326016 -5 0 -5 
C -1.326016 -5 -2.597899 -4.473168 -3.535534 -3.535534 
C -4.473168 -2.597899 -5 -1.326016 -5 0 
C -5 1.326016 -4.473168 2.597899 -3.535534 3.535534 
C -2.597899 4.473168 -1.326016 5 0 5 
z
" transform="translate(993.94704 500.04)" style="fill: #d62728; stroke: #d62728"/>
     <path d="M 0 5 
C 1.326016 5 2.597899 4.473168 3.535534 3.535534 
C 4.473168 2.597899 5 1.326016 5 0 
C 5 -1.326016 4.473168 -2.597899 3.535534 -3.535534 
C 2.597899 -4.473168 1.326016 -5 0 -5 
C -1.326016 -5 -2.597899 -4.473168 -3.535534 -3.535534 
C -4.473168 -2.597899 -5 -1.326016 -5 0 
C -5 1.326016 -4.473168 2.597899 -3.535534 3.535534 
C -2.597899 4.473168 -1.326016 5 0 5 
z
" transform="translate(1007.18496 501.48)" style="fill: #d62728; stroke: #d62728"/>
     <path d="M 0 5 
C 1.326016 5 2.597899 4.473168 3.535534 3.535534 
C 4.473168 2.597899 5 1.326016 5 0 
C 5 -1.326016 4.473168 -2.597899 3.535534 -3.535534 
C 2.597899 -4.473168 1.326016 -5 0 -5 
C -1.326016 -5 -2.597899 -4.473168 -3.535534 -3.535534 
C -4.473168 -2.597899 -5 -1.326016 -5 0 
C -5 1.326016 -4.473168 2.597899 -3.535534 3.535534 
C -2.597899 4.473168 -1.326016 5 0 5 
z
" transform="translate(1020.42288 502.848)" style="fill: #d62728; stroke: #d62728"/>
     <path d="M 0 5 
C 1.326016 5 2.597899 4.473168 3.535534 3.535534 
C 4.473168 2.597899 5 1.326016 5 0 
C 5 -1.326016 4.473168 -2.597899 3.535534 -3.535534 
C 2.597899 -4.473168 1.326016 -5 0 -5 
C -1.326016 -5 -2.597899 -4.473168 -3.535534 -3.535534 
C -4.473168 -2.597899 -5 -1.326016 -5 0 
C -5 1.326016 -4.473168 2.597899 -3.535534 3.535534 
C -2.597899 4.473168 -1.326016 5 0 5 
z
" transform="translate(1033.6608 502.704)" style="fill: #d62728; stroke: #d62728"/>
     <path d="M 0 5 
C 1.326016 5 2.597899 4.473168 3.535534 3.535534 
C 4.473168 2.597899 5 1.326016 5 0 
C 5 -1.326016 4.473168 -2.597899 3.535534 -3.535534 
C 2.597899 -4.473168 1.326016 -5 0 -5 
C -1.326016 -5 -2.597899 -4.473168 -3.535534 -3.535534 
C -4.473168 -2.597899 -5 -1.326016 -5 0 
C -5 1.326016 -4.473168 2.597899 -3.535534 3.535534 
C -2.597899 4.473168 -1.326016 5 0 5 
z
" transform="translate(1046.89872 501.984)" style="fill: #d62728; stroke: #d62728"/>
     <path d="M 0 5 
C 1.326016 5 2.597899 4.473168 3.535534 3.535534 
C 4.473168 2.597899 5 1.326016 5 0 
C 5 -1.326016 4.473168 -2.597899 3.535534 -3.535534 
C 2.597899 -4.473168 1.326016 -5 0 -5 
C -1.326016 -5 -2.597899 -4.473168 -3.535534 -3.535534 
C -4.473168 -2.597899 -5 -1.326016 -5 0 
C -5 1.326016 -4.473168 2.597899 -3.535534 3.535534 
C -2.597899 4.473168 -1.326016 5 0 5 
z
" transform="translate(1060.13664 500.976)" style="fill: #d62728; stroke: #d62728"/>
     <path d="M 0 5 
C 1.326016 5 2.597899 4.473168 3.535534 3.535534 
C 4.473168 2.597899 5 1.326016 5 0 
C 5 -1.326016 4.473168 -2.597899 3.535534 -3.535534 
C 2.597899 -4.473168 1.326016 -5 0 -5 
C -1.326016 -5 -2.597899 -4.473168 -3.535534 -3.535534 
C -4.473168 -2.597899 -5 -1.326016 -5 0 
C -5 1.326016 -4.473168 2.597899 -3.535534 3.535534 
C -2.597899 4.473168 -1.326016 5 0 5 
z
" transform="translate(1073.37456 499.464)" style="fill: #d62728; stroke: #d62728"/>
     <path d="M 0 5 
C 1.326016 5 2.597899 4.473168 3.535534 3.535534 
C 4.473168 2.597899 5 1.326016 5 0 
C 5 -1.326016 4.473168 -2.597899 3.535534 -3.535534 
C 2.597899 -4.473168 1.326016 -5 0 -5 
C -1.326016 -5 -2.597899 -4.473168 -3.535534 -3.535534 
C -4.473168 -2.597899 -5 -1.326016 -5 0 
C -5 1.326016 -4.473168 2.597899 -3.535534 3.535534 
C -2.597899 4.473168 -1.326016 5 0 5 
z
" transform="translate(1086.61248 497.16)" style="fill: #d62728; stroke: #d62728"/>
     <path d="M 0 5 
C 1.326016 5 2.597899 4.473168 3.535534 3.535534 
C 4.473168 2.597899 5 1.326016 5 0 
C 5 -1.326016 4.473168 -2.597899 3.535534 -3.535534 
C 2.597899 -4.473168 1.326016 -5 0 -5 
C -1.326016 -5 -2.597899 -4.473168 -3.535534 -3.535534 
C -4.473168 -2.597899 -5 -1.326016 -5 0 
C -5 1.326016 -4.473168 2.597899 -3.535534 3.535534 
C -2.597899 4.473168 -1.326016 5 0 5 
z
" transform="translate(1099.8504 493.632)" style="fill: #d62728; stroke: #d62728"/>
    </g>
   </g>
   <g id="line2d_26">
    <path d="M 159.95808 536.544 
L 173.196 530.208 
L 186.43392 522.432 
L 199.67184 512.928 
L 212.90976 503.064 
L 226.14768 492.696 
L 239.3856 481.824 
L 252.62352 470.664 
L 265.86144 458.928 
L 279.09936 446.76 
L 292.33728 433.224 
L 305.5752 420.12 
L 318.81312 407.088 
L 332.05104 394.488 
L 345.28896 380.16 
L 358.52688 366.336 
L 371.7648 352.368 
L 385.00272 338.04 
L 398.24064 323.352 
L 411.47856 308.736 
L 424.71648 294.696 
L 437.9544 280.872 
L 451.19232 267.336 
L 464.43024 254.232 
L 477.66816 243.072 
L 490.90608 234.576 
L 504.144 230.184 
L 517.38192 232.128 
L 530.61984 238.68 
L 543.85776 249.336 
L 557.09568 261.648 
L 570.3336 275.112 
L 583.57152 288.936 
L 596.80944 303.264 
L 610.04736 317.592 
L 623.28528 331.704 
L 636.5232 346.032 
L 649.76112 360.072 
L 662.99904 374.616 
L 676.23696 387.936 
L 689.47488 401.904 
L 702.7128 415.152 
L 715.95072 428.688 
L 729.18864 441 
L 742.42656 453.312 
L 755.66448 465.264 
L 768.9024 476.712 
L 782.14032 487.872 
L 795.37824 498.744 
L 808.61616 508.752 
L 821.85408 518.184 
L 835.092 527.112 
L 848.32992 535.464 
L 861.56784 542.88 
L 874.80576 549.792 
L 888.04368 555.696 
L 901.2816 561.456 
L 914.51952 565.92 
L 927.75744 570.384 
L 940.99536 574.272 
L 954.23328 577.08 
L 967.4712 578.808 
L 980.70912 579.312 
L 993.94704 578.808 
L 1007.18496 577.08 
L 1020.42288 574.272 
L 1033.6608 570.528 
L 1046.89872 566.784 
L 1060.13664 562.68 
L 1073.37456 556.704 
L 1086.61248 550.944 
L 1099.8504 544.824 
" clip-path="url(#p12b262372b)" style="fill: none; stroke: #9467bd; stroke-width: 2; stroke-linecap: square"/>
    <defs>
     
    </defs>
    <g clip-path="url(#p12b262372b)">
     <path d="M 0 -5 
L -1.12257 -1.545085 
L -4.755283 -1.545085 
L -1.816356 0.59017 
L -2.938926 4.045085 
L -0 1.90983 
L 2.938926 4.045085 
L 1.816356 0.59017 
L 4.755283 -1.545085 
L 1.12257 -1.545085 
z
" transform="translate(159.95808 536.544)" style="fill: #9467bd; stroke: #9467bd; stroke-linejoin: round"/>
     <path d="M 0 -5 
L -1.12257 -1.545085 
L -4.755283 -1.545085 
L -1.816356 0.59017 
L -2.938926 4.045085 
L -0 1.90983 
L 2.938926 4.045085 
L 1.816356 0.59017 
L 4.755283 -1.545085 
L 1.12257 -1.545085 
z
" transform="translate(173.196 530.208)" style="fill: #9467bd; stroke: #9467bd; stroke-linejoin: round"/>
     <path d="M 0 -5 
L -1.12257 -1.545085 
L -4.755283 -1.545085 
L -1.816356 0.59017 
L -2.938926 4.045085 
L -0 1.90983 
L 2.938926 4.045085 
L 1.816356 0.59017 
L 4.755283 -1.545085 
L 1.12257 -1.545085 
z
" transform="translate(186.43392 522.432)" style="fill: #9467bd; stroke: #9467bd; stroke-linejoin: round"/>
     <path d="M 0 -5 
L -1.12257 -1.545085 
L -4.755283 -1.545085 
L -1.816356 0.59017 
L -2.938926 4.045085 
L -0 1.90983 
L 2.938926 4.045085 
L 1.816356 0.59017 
L 4.755283 -1.545085 
L 1.12257 -1.545085 
z
" transform="translate(199.67184 512.928)" style="fill: #9467bd; stroke: #9467bd; stroke-linejoin: round"/>
     <path d="M 0 -5 
L -1.12257 -1.545085 
L -4.755283 -1.545085 
L -1.816356 0.59017 
L -2.938926 4.045085 
L -0 1.90983 
L 2.938926 4.045085 
L 1.816356 0.59017 
L 4.755283 -1.545085 
L 1.12257 -1.545085 
z
" transform="translate(212.90976 503.064)" style="fill: #9467bd; stroke: #9467bd; stroke-linejoin: round"/>
     <path d="M 0 -5 
L -1.12257 -1.545085 
L -4.755283 -1.545085 
L -1.816356 0.59017 
L -2.938926 4.045085 
L -0 1.90983 
L 2.938926 4.045085 
L 1.816356 0.59017 
L 4.755283 -1.545085 
L 1.12257 -1.545085 
z
" transform="translate(226.14768 492.696)" style="fill: #9467bd; stroke: #9467bd; stroke-linejoin: round"/>
     <path d="M 0 -5 
L -1.12257 -1.545085 
L -4.755283 -1.545085 
L -1.816356 0.59017 
L -2.938926 4.045085 
L -0 1.90983 
L 2.938926 4.045085 
L 1.816356 0.59017 
L 4.755283 -1.545085 
L 1.12257 -1.545085 
z
" transform="translate(239.3856 481.824)" style="fill: #9467bd; stroke: #9467bd; stroke-linejoin: round"/>
     <path d="M 0 -5 
L -1.12257 -1.545085 
L -4.755283 -1.545085 
L -1.816356 0.59017 
L -2.938926 4.045085 
L -0 1.90983 
L 2.938926 4.045085 
L 1.816356 0.59017 
L 4.755283 -1.545085 
L 1.12257 -1.545085 
z
" transform="translate(252.62352 470.664)" style="fill: #9467bd; stroke: #9467bd; stroke-linejoin: round"/>
     <path d="M 0 -5 
L -1.12257 -1.545085 
L -4.755283 -1.545085 
L -1.816356 0.59017 
L -2.938926 4.045085 
L -0 1.90983 
L 2.938926 4.045085 
L 1.816356 0.59017 
L 4.755283 -1.545085 
L 1.12257 -1.545085 
z
" transform="translate(265.86144 458.928)" style="fill: #9467bd; stroke: #9467bd; stroke-linejoin: round"/>
     <path d="M 0 -5 
L -1.12257 -1.545085 
L -4.755283 -1.545085 
L -1.816356 0.59017 
L -2.938926 4.045085 
L -0 1.90983 
L 2.938926 4.045085 
L 1.816356 0.59017 
L 4.755283 -1.545085 
L 1.12257 -1.545085 
z
" transform="translate(279.09936 446.76)" style="fill: #9467bd; stroke: #9467bd; stroke-linejoin: round"/>
     <path d="M 0 -5 
L -1.12257 -1.545085 
L -4.755283 -1.545085 
L -1.816356 0.59017 
L -2.938926 4.045085 
L -0 1.90983 
L 2.938926 4.045085 
L 1.816356 0.59017 
L 4.755283 -1.545085 
L 1.12257 -1.545085 
z
" transform="translate(292.33728 433.224)" style="fill: #9467bd; stroke: #9467bd; stroke-linejoin: round"/>
     <path d="M 0 -5 
L -1.12257 -1.545085 
L -4.755283 -1.545085 
L -1.816356 0.59017 
L -2.938926 4.045085 
L -0 1.90983 
L 2.938926 4.045085 
L 1.816356 0.59017 
L 4.755283 -1.545085 
L 1.12257 -1.545085 
z
" transform="translate(305.5752 420.12)" style="fill: #9467bd; stroke: #9467bd; stroke-linejoin: round"/>
     <path d="M 0 -5 
L -1.12257 -1.545085 
L -4.755283 -1.545085 
L -1.816356 0.59017 
L -2.938926 4.045085 
L -0 1.90983 
L 2.938926 4.045085 
L 1.816356 0.59017 
L 4.755283 -1.545085 
L 1.12257 -1.545085 
z
" transform="translate(318.81312 407.088)" style="fill: #9467bd; stroke: #9467bd; stroke-linejoin: round"/>
     <path d="M 0 -5 
L -1.12257 -1.545085 
L -4.755283 -1.545085 
L -1.816356 0.59017 
L -2.938926 4.045085 
L -0 1.90983 
L 2.938926 4.045085 
L 1.816356 0.59017 
L 4.755283 -1.545085 
L 1.12257 -1.545085 
z
" transform="translate(332.05104 394.488)" style="fill: #9467bd; stroke: #9467bd; stroke-linejoin: round"/>
     <path d="M 0 -5 
L -1.12257 -1.545085 
L -4.755283 -1.545085 
L -1.816356 0.59017 
L -2.938926 4.045085 
L -0 1.90983 
L 2.938926 4.045085 
L 1.816356 0.59017 
L 4.755283 -1.545085 
L 1.12257 -1.545085 
z
" transform="translate(345.28896 380.16)" style="fill: #9467bd; stroke: #9467bd; stroke-linejoin: round"/>
     <path d="M 0 -5 
L -1.12257 -1.545085 
L -4.755283 -1.545085 
L -1.816356 0.59017 
L -2.938926 4.045085 
L -0 1.90983 
L 2.938926 4.045085 
L 1.816356 0.59017 
L 4.755283 -1.545085 
L 1.12257 -1.545085 
z
" transform="translate(358.52688 366.336)" style="fill: #9467bd; stroke: #9467bd; stroke-linejoin: round"/>
     <path d="M 0 -5 
L -1.12257 -1.545085 
L -4.755283 -1.545085 
L -1.816356 0.59017 
L -2.938926 4.045085 
L -0 1.90983 
L 2.938926 4.045085 
L 1.816356 0.59017 
L 4.755283 -1.545085 
L 1.12257 -1.545085 
z
" transform="translate(371.7648 352.368)" style="fill: #9467bd; stroke: #9467bd; stroke-linejoin: round"/>
     <path d="M 0 -5 
L -1.12257 -1.545085 
L -4.755283 -1.545085 
L -1.816356 0.59017 
L -2.938926 4.045085 
L -0 1.90983 
L 2.938926 4.045085 
L 1.816356 0.59017 
L 4.755283 -1.545085 
L 1.12257 -1.545085 
z
" transform="translate(385.00272 338.04)" style="fill: #9467bd; stroke: #9467bd; stroke-linejoin: round"/>
     <path d="M 0 -5 
L -1.12257 -1.545085 
L -4.755283 -1.545085 
L -1.816356 0.59017 
L -2.938926 4.045085 
L -0 1.90983 
L 2.938926 4.045085 
L 1.816356 0.59017 
L 4.755283 -1.545085 
L 1.12257 -1.545085 
z
" transform="translate(398.24064 323.352)" style="fill: #9467bd; stroke: #9467bd; stroke-linejoin: round"/>
     <path d="M 0 -5 
L -1.12257 -1.545085 
L -4.755283 -1.545085 
L -1.816356 0.59017 
L -2.938926 4.045085 
L -0 1.90983 
L 2.938926 4.045085 
L 1.816356 0.59017 
L 4.755283 -1.545085 
L 1.12257 -1.545085 
z
" transform="translate(411.47856 308.736)" style="fill: #9467bd; stroke: #9467bd; stroke-linejoin: round"/>
     <path d="M 0 -5 
L -1.12257 -1.545085 
L -4.755283 -1.545085 
L -1.816356 0.59017 
L -2.938926 4.045085 
L -0 1.90983 
L 2.938926 4.045085 
L 1.816356 0.59017 
L 4.755283 -1.545085 
L 1.12257 -1.545085 
z
" transform="translate(424.71648 294.696)" style="fill: #9467bd; stroke: #9467bd; stroke-linejoin: round"/>
     <path d="M 0 -5 
L -1.12257 -1.545085 
L -4.755283 -1.545085 
L -1.816356 0.59017 
L -2.938926 4.045085 
L -0 1.90983 
L 2.938926 4.045085 
L 1.816356 0.59017 
L 4.755283 -1.545085 
L 1.12257 -1.545085 
z
" transform="translate(437.9544 280.872)" style="fill: #9467bd; stroke: #9467bd; stroke-linejoin: round"/>
     <path d="M 0 -5 
L -1.12257 -1.545085 
L -4.755283 -1.545085 
L -1.816356 0.59017 
L -2.938926 4.045085 
L -0 1.90983 
L 2.938926 4.045085 
L 1.816356 0.59017 
L 4.755283 -1.545085 
L 1.12257 -1.545085 
z
" transform="translate(451.19232 267.336)" style="fill: #9467bd; stroke: #9467bd; stroke-linejoin: round"/>
     <path d="M 0 -5 
L -1.12257 -1.545085 
L -4.755283 -1.545085 
L -1.816356 0.59017 
L -2.938926 4.045085 
L -0 1.90983 
L 2.938926 4.045085 
L 1.816356 0.59017 
L 4.755283 -1.545085 
L 1.12257 -1.545085 
z
" transform="translate(464.43024 254.232)" style="fill: #9467bd; stroke: #9467bd; stroke-linejoin: round"/>
     <path d="M 0 -5 
L -1.12257 -1.545085 
L -4.755283 -1.545085 
L -1.816356 0.59017 
L -2.938926 4.045085 
L -0 1.90983 
L 2.938926 4.045085 
L 1.816356 0.59017 
L 4.755283 -1.545085 
L 1.12257 -1.545085 
z
" transform="translate(477.66816 243.072)" style="fill: #9467bd; stroke: #9467bd; stroke-linejoin: round"/>
     <path d="M 0 -5 
L -1.12257 -1.545085 
L -4.755283 -1.545085 
L -1.816356 0.59017 
L -2.938926 4.045085 
L -0 1.90983 
L 2.938926 4.045085 
L 1.816356 0.59017 
L 4.755283 -1.545085 
L 1.12257 -1.545085 
z
" transform="translate(490.90608 234.576)" style="fill: #9467bd; stroke: #9467bd; stroke-linejoin: round"/>
     <path d="M 0 -5 
L -1.12257 -1.545085 
L -4.755283 -1.545085 
L -1.816356 0.59017 
L -2.938926 4.045085 
L -0 1.90983 
L 2.938926 4.045085 
L 1.816356 0.59017 
L 4.755283 -1.545085 
L 1.12257 -1.545085 
z
" transform="translate(504.144 230.184)" style="fill: #9467bd; stroke: #9467bd; stroke-linejoin: round"/>
     <path d="M 0 -5 
L -1.12257 -1.545085 
L -4.755283 -1.545085 
L -1.816356 0.59017 
L -2.938926 4.045085 
L -0 1.90983 
L 2.938926 4.045085 
L 1.816356 0.59017 
L 4.755283 -1.545085 
L 1.12257 -1.545085 
z
" transform="translate(517.38192 232.128)" style="fill: #9467bd; stroke: #9467bd; stroke-linejoin: round"/>
     <path d="M 0 -5 
L -1.12257 -1.545085 
L -4.755283 -1.545085 
L -1.816356 0.59017 
L -2.938926 4.045085 
L -0 1.90983 
L 2.938926 4.045085 
L 1.816356 0.59017 
L 4.755283 -1.545085 
L 1.12257 -1.545085 
z
" transform="translate(530.61984 238.68)" style="fill: #9467bd; stroke: #9467bd; stroke-linejoin: round"/>
     <path d="M 0 -5 
L -1.12257 -1.545085 
L -4.755283 -1.545085 
L -1.816356 0.59017 
L -2.938926 4.045085 
L -0 1.90983 
L 2.938926 4.045085 
L 1.816356 0.59017 
L 4.755283 -1.545085 
L 1.12257 -1.545085 
z
" transform="translate(543.85776 249.336)" style="fill: #9467bd; stroke: #9467bd; stroke-linejoin: round"/>
     <path d="M 0 -5 
L -1.12257 -1.545085 
L -4.755283 -1.545085 
L -1.816356 0.59017 
L -2.938926 4.045085 
L -0 1.90983 
L 2.938926 4.045085 
L 1.816356 0.59017 
L 4.755283 -1.545085 
L 1.12257 -1.545085 
z
" transform="translate(557.09568 261.648)" style="fill: #9467bd; stroke: #9467bd; stroke-linejoin: round"/>
     <path d="M 0 -5 
L -1.12257 -1.545085 
L -4.755283 -1.545085 
L -1.816356 0.59017 
L -2.938926 4.045085 
L -0 1.90983 
L 2.938926 4.045085 
L 1.816356 0.59017 
L 4.755283 -1.545085 
L 1.12257 -1.545085 
z
" transform="translate(570.3336 275.112)" style="fill: #9467bd; stroke: #9467bd; stroke-linejoin: round"/>
     <path d="M 0 -5 
L -1.12257 -1.545085 
L -4.755283 -1.545085 
L -1.816356 0.59017 
L -2.938926 4.045085 
L -0 1.90983 
L 2.938926 4.045085 
L 1.816356 0.59017 
L 4.755283 -1.545085 
L 1.12257 -1.545085 
z
" transform="translate(583.57152 288.936)" style="fill: #9467bd; stroke: #9467bd; stroke-linejoin: round"/>
     <path d="M 0 -5 
L -1.12257 -1.545085 
L -4.755283 -1.545085 
L -1.816356 0.59017 
L -2.938926 4.045085 
L -0 1.90983 
L 2.938926 4.045085 
L 1.816356 0.59017 
L 4.755283 -1.545085 
L 1.12257 -1.545085 
z
" transform="translate(596.80944 303.264)" style="fill: #9467bd; stroke: #9467bd; stroke-linejoin: round"/>
     <path d="M 0 -5 
L -1.12257 -1.545085 
L -4.755283 -1.545085 
L -1.816356 0.59017 
L -2.938926 4.045085 
L -0 1.90983 
L 2.938926 4.045085 
L 1.816356 0.59017 
L 4.755283 -1.545085 
L 1.12257 -1.545085 
z
" transform="translate(610.04736 317.592)" style="fill: #9467bd; stroke: #9467bd; stroke-linejoin: round"/>
     <path d="M 0 -5 
L -1.12257 -1.545085 
L -4.755283 -1.545085 
L -1.816356 0.59017 
L -2.938926 4.045085 
L -0 1.90983 
L 2.938926 4.045085 
L 1.816356 0.59017 
L 4.755283 -1.545085 
L 1.12257 -1.545085 
z
" transform="translate(623.28528 331.704)" style="fill: #9467bd; stroke: #9467bd; stroke-linejoin: round"/>
     <path d="M 0 -5 
L -1.12257 -1.545085 
L -4.755283 -1.545085 
L -1.816356 0.59017 
L -2.938926 4.045085 
L -0 1.90983 
L 2.938926 4.045085 
L 1.816356 0.59017 
L 4.755283 -1.545085 
L 1.12257 -1.545085 
z
" transform="translate(636.5232 346.032)" style="fill: #9467bd; stroke: #9467bd; stroke-linejoin: round"/>
     <path d="M 0 -5 
L -1.12257 -1.545085 
L -4.755283 -1.545085 
L -1.816356 0.59017 
L -2.938926 4.045085 
L -0 1.90983 
L 2.938926 4.045085 
L 1.816356 0.59017 
L 4.755283 -1.545085 
L 1.12257 -1.545085 
z
" transform="translate(649.76112 360.072)" style="fill: #9467bd; stroke: #9467bd; stroke-linejoin: round"/>
     <path d="M 0 -5 
L -1.12257 -1.545085 
L -4.755283 -1.545085 
L -1.816356 0.59017 
L -2.938926 4.045085 
L -0 1.90983 
L 2.938926 4.045085 
L 1.816356 0.59017 
L 4.755283 -1.545085 
L 1.12257 -1.545085 
z
" transform="translate(662.99904 374.616)" style="fill: #9467bd; stroke: #9467bd; stroke-linejoin: round"/>
     <path d="M 0 -5 
L -1.12257 -1.545085 
L -4.755283 -1.545085 
L -1.816356 0.59017 
L -2.938926 4.045085 
L -0 1.90983 
L 2.938926 4.045085 
L 1.816356 0.59017 
L 4.755283 -1.545085 
L 1.12257 -1.545085 
z
" transform="translate(676.23696 387.936)" style="fill: #9467bd; stroke: #9467bd; stroke-linejoin: round"/>
     <path d="M 0 -5 
L -1.12257 -1.545085 
L -4.755283 -1.545085 
L -1.816356 0.59017 
L -2.938926 4.045085 
L -0 1.90983 
L 2.938926 4.045085 
L 1.816356 0.59017 
L 4.755283 -1.545085 
L 1.12257 -1.545085 
z
" transform="translate(689.47488 401.904)" style="fill: #9467bd; stroke: #9467bd; stroke-linejoin: round"/>
     <path d="M 0 -5 
L -1.12257 -1.545085 
L -4.755283 -1.545085 
L -1.816356 0.59017 
L -2.938926 4.045085 
L -0 1.90983 
L 2.938926 4.045085 
L 1.816356 0.59017 
L 4.755283 -1.545085 
L 1.12257 -1.545085 
z
" transform="translate(702.7128 415.152)" style="fill: #9467bd; stroke: #9467bd; stroke-linejoin: round"/>
     <path d="M 0 -5 
L -1.12257 -1.545085 
L -4.755283 -1.545085 
L -1.816356 0.59017 
L -2.938926 4.045085 
L -0 1.90983 
L 2.938926 4.045085 
L 1.816356 0.59017 
L 4.755283 -1.545085 
L 1.12257 -1.545085 
z
" transform="translate(715.95072 428.688)" style="fill: #9467bd; stroke: #9467bd; stroke-linejoin: round"/>
     <path d="M 0 -5 
L -1.12257 -1.545085 
L -4.755283 -1.545085 
L -1.816356 0.59017 
L -2.938926 4.045085 
L -0 1.90983 
L 2.938926 4.045085 
L 1.816356 0.59017 
L 4.755283 -1.545085 
L 1.12257 -1.545085 
z
" transform="translate(729.18864 441)" style="fill: #9467bd; stroke: #9467bd; stroke-linejoin: round"/>
     <path d="M 0 -5 
L -1.12257 -1.545085 
L -4.755283 -1.545085 
L -1.816356 0.59017 
L -2.938926 4.045085 
L -0 1.90983 
L 2.938926 4.045085 
L 1.816356 0.59017 
L 4.755283 -1.545085 
L 1.12257 -1.545085 
z
" transform="translate(742.42656 453.312)" style="fill: #9467bd; stroke: #9467bd; stroke-linejoin: round"/>
     <path d="M 0 -5 
L -1.12257 -1.545085 
L -4.755283 -1.545085 
L -1.816356 0.59017 
L -2.938926 4.045085 
L -0 1.90983 
L 2.938926 4.045085 
L 1.816356 0.59017 
L 4.755283 -1.545085 
L 1.12257 -1.545085 
z
" transform="translate(755.66448 465.264)" style="fill: #9467bd; stroke: #9467bd; stroke-linejoin: round"/>
     <path d="M 0 -5 
L -1.12257 -1.545085 
L -4.755283 -1.545085 
L -1.816356 0.59017 
L -2.938926 4.045085 
L -0 1.90983 
L 2.938926 4.045085 
L 1.816356 0.59017 
L 4.755283 -1.545085 
L 1.12257 -1.545085 
z
" transform="translate(768.9024 476.712)" style="fill: #9467bd; stroke: #9467bd; stroke-linejoin: round"/>
     <path d="M 0 -5 
L -1.12257 -1.545085 
L -4.755283 -1.545085 
L -1.816356 0.59017 
L -2.938926 4.045085 
L -0 1.90983 
L 2.938926 4.045085 
L 1.816356 0.59017 
L 4.755283 -1.545085 
L 1.12257 -1.545085 
z
" transform="translate(782.14032 487.872)" style="fill: #9467bd; stroke: #9467bd; stroke-linejoin: round"/>
     <path d="M 0 -5 
L -1.12257 -1.545085 
L -4.755283 -1.545085 
L -1.816356 0.59017 
L -2.938926 4.045085 
L -0 1.90983 
L 2.938926 4.045085 
L 1.816356 0.59017 
L 4.755283 -1.545085 
L 1.12257 -1.545085 
z
" transform="translate(795.37824 498.744)" style="fill: #9467bd; stroke: #9467bd; stroke-linejoin: round"/>
     <path d="M 0 -5 
L -1.12257 -1.545085 
L -4.755283 -1.545085 
L -1.816356 0.59017 
L -2.938926 4.045085 
L -0 1.90983 
L 2.938926 4.045085 
L 1.816356 0.59017 
L 4.755283 -1.545085 
L 1.12257 -1.545085 
z
" transform="translate(808.61616 508.752)" style="fill: #9467bd; stroke: #9467bd; stroke-linejoin: round"/>
     <path d="M 0 -5 
L -1.12257 -1.545085 
L -4.755283 -1.545085 
L -1.816356 0.59017 
L -2.938926 4.045085 
L -0 1.90983 
L 2.938926 4.045085 
L 1.816356 0.59017 
L 4.755283 -1.545085 
L 1.12257 -1.545085 
z
" transform="translate(821.85408 518.184)" style="fill: #9467bd; stroke: #9467bd; stroke-linejoin: round"/>
     <path d="M 0 -5 
L -1.12257 -1.545085 
L -4.755283 -1.545085 
L -1.816356 0.59017 
L -2.938926 4.045085 
L -0 1.90983 
L 2.938926 4.045085 
L 1.816356 0.59017 
L 4.755283 -1.545085 
L 1.12257 -1.545085 
z
" transform="translate(835.092 527.112)" style="fill: #9467bd; stroke: #9467bd; stroke-linejoin: round"/>
     <path d="M 0 -5 
L -1.12257 -1.545085 
L -4.755283 -1.545085 
L -1.816356 0.59017 
L -2.938926 4.045085 
L -0 1.90983 
L 2.938926 4.045085 
L 1.816356 0.59017 
L 4.755283 -1.545085 
L 1.12257 -1.545085 
z
" transform="translate(848.32992 535.464)" style="fill: #9467bd; stroke: #9467bd; stroke-linejoin: round"/>
     <path d="M 0 -5 
L -1.12257 -1.545085 
L -4.755283 -1.545085 
L -1.816356 0.59017 
L -2.938926 4.045085 
L -0 1.90983 
L 2.938926 4.045085 
L 1.816356 0.59017 
L 4.755283 -1.545085 
L 1.12257 -1.545085 
z
" transform="translate(861.56784 542.88)" style="fill: #9467bd; stroke: #9467bd; stroke-linejoin: round"/>
     <path d="M 0 -5 
L -1.12257 -1.545085 
L -4.755283 -1.545085 
L -1.816356 0.59017 
L -2.938926 4.045085 
L -0 1.90983 
L 2.938926 4.045085 
L 1.816356 0.59017 
L 4.755283 -1.545085 
L 1.12257 -1.545085 
z
" transform="translate(874.80576 549.792)" style="fill: #9467bd; stroke: #9467bd; stroke-linejoin: round"/>
     <path d="M 0 -5 
L -1.12257 -1.545085 
L -4.755283 -1.545085 
L -1.816356 0.59017 
L -2.938926 4.045085 
L -0 1.90983 
L 2.938926 4.045085 
L 1.816356 0.59017 
L 4.755283 -1.545085 
L 1.12257 -1.545085 
z
" transform="translate(888.04368 555.696)" style="fill: #9467bd; stroke: #9467bd; stroke-linejoin: round"/>
     <path d="M 0 -5 
L -1.12257 -1.545085 
L -4.755283 -1.545085 
L -1.816356 0.59017 
L -2.938926 4.045085 
L -0 1.90983 
L 2.938926 4.045085 
L 1.816356 0.59017 
L 4.755283 -1.545085 
L 1.12257 -1.545085 
z
" transform="translate(901.2816 561.456)" style="fill: #9467bd; stroke: #9467bd; stroke-linejoin: round"/>
     <path d="M 0 -5 
L -1.12257 -1.545085 
L -4.755283 -1.545085 
L -1.816356 0.59017 
L -2.938926 4.045085 
L -0 1.90983 
L 2.938926 4.045085 
L 1.816356 0.59017 
L 4.755283 -1.545085 
L 1.12257 -1.545085 
z
" transform="translate(914.51952 565.92)" style="fill: #9467bd; stroke: #9467bd; stroke-linejoin: round"/>
     <path d="M 0 -5 
L -1.12257 -1.545085 
L -4.755283 -1.545085 
L -1.816356 0.59017 
L -2.938926 4.045085 
L -0 1.90983 
L 2.938926 4.045085 
L 1.816356 0.59017 
L 4.755283 -1.545085 
L 1.12257 -1.545085 
z
" transform="translate(927.75744 570.384)" style="fill: #9467bd; stroke: #9467bd; stroke-linejoin: round"/>
     <path d="M 0 -5 
L -1.12257 -1.545085 
L -4.755283 -1.545085 
L -1.816356 0.59017 
L -2.938926 4.045085 
L -0 1.90983 
L 2.938926 4.045085 
L 1.816356 0.59017 
L 4.755283 -1.545085 
L 1.12257 -1.545085 
z
" transform="translate(940.99536 574.272)" style="fill: #9467bd; stroke: #9467bd; stroke-linejoin: round"/>
     <path d="M 0 -5 
L -1.12257 -1.545085 
L -4.755283 -1.545085 
L -1.816356 0.59017 
L -2.938926 4.045085 
L -0 1.90983 
L 2.938926 4.045085 
L 1.816356 0.59017 
L 4.755283 -1.545085 
L 1.12257 -1.545085 
z
" transform="translate(954.23328 577.08)" style="fill: #9467bd; stroke: #9467bd; stroke-linejoin: round"/>
     <path d="M 0 -5 
L -1.12257 -1.545085 
L -4.755283 -1.545085 
L -1.816356 0.59017 
L -2.938926 4.045085 
L -0 1.90983 
L 2.938926 4.045085 
L 1.816356 0.59017 
L 4.755283 -1.545085 
L 1.12257 -1.545085 
z
" transform="translate(967.4712 578.808)" style="fill: #9467bd; stroke: #9467bd; stroke-linejoin: round"/>
     <path d="M 0 -5 
L -1.12257 -1.545085 
L -4.755283 -1.545085 
L -1.816356 0.59017 
L -2.938926 4.045085 
L -0 1.90983 
L 2.938926 4.045085 
L 1.816356 0.59017 
L 4.755283 -1.545085 
L 1.12257 -1.545085 
z
" transform="translate(980.70912 579.312)" style="fill: #9467bd; stroke: #9467bd; stroke-linejoin: round"/>
     <path d="M 0 -5 
L -1.12257 -1.545085 
L -4.755283 -1.545085 
L -1.816356 0.59017 
L -2.938926 4.045085 
L -0 1.90983 
L 2.938926 4.045085 
L 1.816356 0.59017 
L 4.755283 -1.545085 
L 1.12257 -1.545085 
z
" transform="translate(993.94704 578.808)" style="fill: #9467bd; stroke: #9467bd; stroke-linejoin: round"/>
     <path d="M 0 -5 
L -1.12257 -1.545085 
L -4.755283 -1.545085 
L -1.816356 0.59017 
L -2.938926 4.045085 
L -0 1.90983 
L 2.938926 4.045085 
L 1.816356 0.59017 
L 4.755283 -1.545085 
L 1.12257 -1.545085 
z
" transform="translate(1007.18496 577.08)" style="fill: #9467bd; stroke: #9467bd; stroke-linejoin: round"/>
     <path d="M 0 -5 
L -1.12257 -1.545085 
L -4.755283 -1.545085 
L -1.816356 0.59017 
L -2.938926 4.045085 
L -0 1.90983 
L 2.938926 4.045085 
L 1.816356 0.59017 
L 4.755283 -1.545085 
L 1.12257 -1.545085 
z
" transform="translate(1020.42288 574.272)" style="fill: #9467bd; stroke: #9467bd; stroke-linejoin: round"/>
     <path d="M 0 -5 
L -1.12257 -1.545085 
L -4.755283 -1.545085 
L -1.816356 0.59017 
L -2.938926 4.045085 
L -0 1.90983 
L 2.938926 4.045085 
L 1.816356 0.59017 
L 4.755283 -1.545085 
L 1.12257 -1.545085 
z
" transform="translate(1033.6608 570.528)" style="fill: #9467bd; stroke: #9467bd; stroke-linejoin: round"/>
     <path d="M 0 -5 
L -1.12257 -1.545085 
L -4.755283 -1.545085 
L -1.816356 0.59017 
L -2.938926 4.045085 
L -0 1.90983 
L 2.938926 4.045085 
L 1.816356 0.59017 
L 4.755283 -1.545085 
L 1.12257 -1.545085 
z
" transform="translate(1046.89872 566.784)" style="fill: #9467bd; stroke: #9467bd; stroke-linejoin: round"/>
     <path d="M 0 -5 
L -1.12257 -1.545085 
L -4.755283 -1.545085 
L -1.816356 0.59017 
L -2.938926 4.045085 
L -0 1.90983 
L 2.938926 4.045085 
L 1.816356 0.59017 
L 4.755283 -1.545085 
L 1.12257 -1.545085 
z
" transform="translate(1060.13664 562.68)" style="fill: #9467bd; stroke: #9467bd; stroke-linejoin: round"/>
     <path d="M 0 -5 
L -1.12257 -1.545085 
L -4.755283 -1.545085 
L -1.816356 0.59017 
L -2.938926 4.045085 
L -0 1.90983 
L 2.938926 4.045085 
L 1.816356 0.59017 
L 4.755283 -1.545085 
L 1.12257 -1.545085 
z
" transform="translate(1073.37456 556.704)" style="fill: #9467bd; stroke: #9467bd; stroke-linejoin: round"/>
     <path d="M 0 -5 
L -1.12257 -1.545085 
L -4.755283 -1.545085 
L -1.816356 0.59017 
L -2.938926 4.045085 
L -0 1.90983 
L 2.938926 4.045085 
L 1.816356 0.59017 
L 4.755283 -1.545085 
L 1.12257 -1.545085 
z
" transform="translate(1086.61248 550.944)" style="fill: #9467bd; stroke: #9467bd; stroke-linejoin: round"/>
     <path d="M 0 -5 
L -1.12257 -1.545085 
L -4.755283 -1.545085 
L -1.816356 0.59017 
L -2.938926 4.045085 
L -0 1.90983 
L 2.938926 4.045085 
L 1.816356 0.59017 
L 4.755283 -1.545085 
L 1.12257 -1.545085 
z
" transform="translate(1099.8504 544.824)" style="fill: #9467bd; stroke: #9467bd; stroke-linejoin: round"/>
    </g>
   </g>
   <g id="patch_3">
    <path d="M 167.4 566.28 
L 167.4 85.32 
" style="fill: none; stroke: #000000; stroke-width: 0.72; stroke-linejoin: miter; stroke-linecap: square"/>
   </g>
   <g id="patch_4">
    <path d="M 1201.32 566.28 
L 1201.32 85.32 
" style="fill: none; stroke: #000000; stroke-width: 0.72; stroke-linejoin: miter; stroke-linecap: square"/>
   </g>
   <g id="patch_5">
    <path d="M 167.4 566.28 
L 1201.32 566.28 
" style="fill: none; stroke: #000000; stroke-width: 0.72; stroke-linejoin: miter; stroke-linecap: square"/>
   </g>
   <g id="patch_6">
    <path d="M 167.4 85.32 
L 1201.32 85.32 
" style="fill: none; stroke: #000000; stroke-width: 0.72; stroke-linejoin: miter; stroke-linecap: square"/>
   </g>
   <g id="legend_1">
    <g id="patch_7">
     <path d="M 170.4 109.368 
L 1198.32 109.368 
Q 1201.32 109.368 1201.32 106.368 
L 1201.32 41.816438 
Q 1201.32 38.816438 1198.32 38.816438 
L 170.4 38.816438 
Q 167.4 38.816438 167.4 41.816438 
L 167.4 106.368 
Q 167.4 109.368 170.4 109.368 
z
" style="fill: #ffffff; opacity: 0.8; stroke: #cccccc; stroke-linejoin: miter"/>
    </g>
    <g id="line2d_27">
     <path d="M 173.4 50.964094 
L 188.4 50.964094 
L 203.4 50.964094 
" style="fill: none; stroke: #1f77b4; stroke-width: 2; stroke-linecap: square"/>
     <g>
      <path d="M -5 5 
L 5 5 
L 5 -5 
L -5 -5 
z
" transform="translate(188.4 50.964094)" style="fill: #1f77b4; stroke: #1f77b4; stroke-linejoin: round"/>
     </g>
    </g>
    <g id="text_23">
     <text style="font-size: 15px; font-family: 'DejaVu Sans', sans-serif; text-anchor: start" x="214.464" y="56.214" transform="rotate(-0 214.464 56.214)">g174p20</text>
    </g>
    <g id="line2d_28">
     <path d="M 173.4 72.981281 
L 188.4 72.981281 
L 203.4 72.981281 
" style="fill: none; stroke: #ff7f0e; stroke-width: 2; stroke-linecap: square"/>
     <g>
      <path d="M -5 0 
L 5 0 
M 0 5 
L 0 -5 
" transform="translate(188.4 72.981281)" style="fill: #ff7f0e; stroke: #ff7f0e"/>
     </g>
    </g>
    <g id="text_24">
     <text style="font-size: 15px; font-family: 'DejaVu Sans', sans-serif; text-anchor: start" x="214.464" y="78.231" transform="rotate(-0 214.464 78.231)">g173p48</text>
    </g>
    <g id="line2d_29">
     <path d="M 173.4 94.998469 
L 188.4 94.998469 
L 203.4 94.998469 
" style="fill: none; stroke: #2ca02c; stroke-width: 2; stroke-linecap: square"/>
     <g>
      <path d="M -5 5 
L 5 -5 
M -5 -5 
L 5 5 
" transform="translate(188.4 94.998469)" style="fill: #2ca02c; stroke: #2ca02c"/>
     </g>
    </g>
    <g id="text_25">
     <text style="font-size: 15px; font-family: 'DejaVu Sans', sans-serif; text-anchor: start" x="214.464" y="100.248" transform="rotate(-0 214.464 100.248)">g111p26</text>
    </g>
    <g id="line2d_30">
     <path d="M 1096.099687 50.964094 
L 1111.099687 50.964094 
L 1126.099687 50.964094 
" style="fill: none; stroke: #d62728; stroke-width: 2; stroke-linecap: square"/>
     <g>
      <path d="M 0 5 
C 1.326016 5 2.597899 4.473168 3.535534 3.535534 
C 4.473168 2.597899 5 1.326016 5 0 
C 5 -1.326016 4.473168 -2.597899 3.535534 -3.535534 
C 2.597899 -4.473168 1.326016 -5 0 -5 
C -1.326016 -5 -2.597899 -4.473168 -3.535534 -3.535534 
C -4.473168 -2.597899 -5 -1.326016 -5 0 
C -5 1.326016 -4.473168 2.597899 -3.535534 3.535534 
C -2.597899 4.473168 -1.326016 5 0 5 
z
" transform="translate(1111.099687 50.964094)" style="fill: #d62728; stroke: #d62728"/>
     </g>
    </g>
    <g id="text_26">
     <text style="font-size: 15px; font-family: 'DejaVu Sans', sans-serif; text-anchor: start" x="1137.164" y="56.214" transform="rotate(-0 1137.164 56.214)">g107p3</text>
    </g>
    <g id="line2d_31">
     <path d="M 1096.099687 72.981281 
L 1111.099687 72.981281 
L 1126.099687 72.981281 
" style="fill: none; stroke: #9467bd; stroke-width: 2; stroke-linecap: square"/>
     <g>
      <path d="M 0 -5 
L -1.12257 -1.545085 
L -4.755283 -1.545085 
L -1.816356 0.59017 
L -2.938926 4.045085 
L -0 1.90983 
L 2.938926 4.045085 
L 1.816356 0.59017 
L 4.755283 -1.545085 
L 1.12257 -1.545085 
z
" transform="translate(1111.099687 72.981281)" style="fill: #9467bd; stroke: #9467bd; stroke-linejoin: round"/>
     </g>
    </g>
    <g id="text_27">
     <text style="font-size: 15px; font-family: 'DejaVu Sans', sans-serif; text-anchor: start" x="1137.164" y="78.231" transform="rotate(-0 1137.164 78.231)">g90p92</text>
    </g>
   </g>
  </g>
 </g>
 <defs>
  <clipPath id="p12b262372b">
   <rect x="167.4" y="85.32" width="1033.92" height="480.96"/>
  </clipPath>
 </defs>
</svg>

</body></html>
